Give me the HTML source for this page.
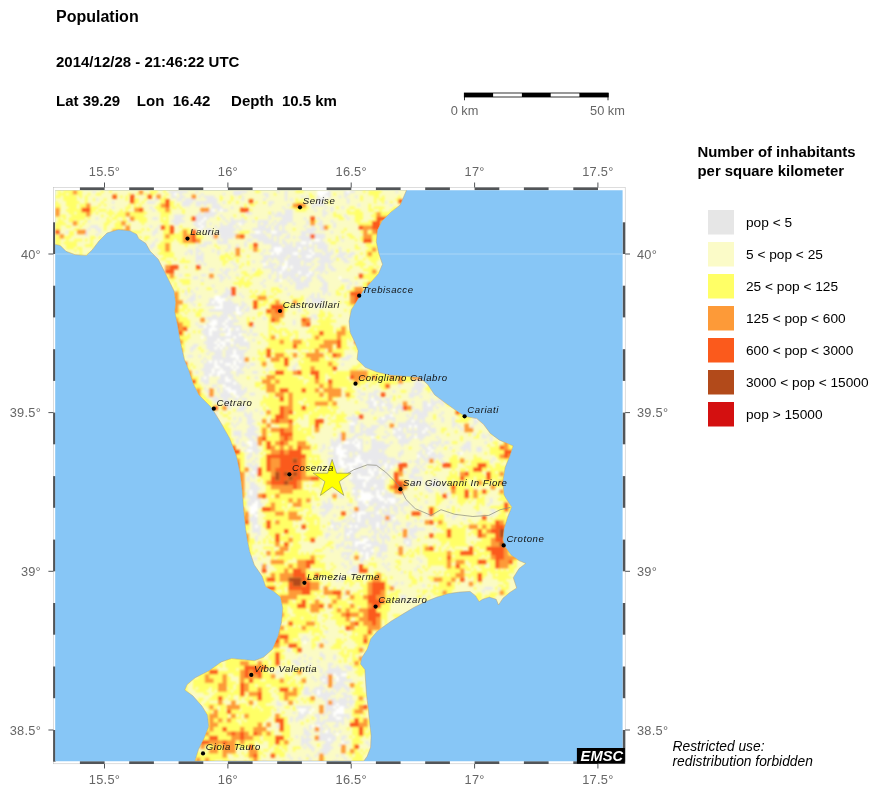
<!DOCTYPE html>
<html><head><meta charset="utf-8"><title>Population</title>
<style>
html,body{margin:0;padding:0;background:#fff}
svg{display:block}
text{font-family:"Liberation Sans",sans-serif}
.ax{font-size:12.8px;fill:#666;letter-spacing:0.25px}
.ct{font-size:9.6px;font-style:italic;fill:#111;letter-spacing:0.55px}
.lg{font-size:13.7px;fill:#000}
.b{font-weight:bold;fill:#000}
</style></head><body>
<svg width="878" height="794" viewBox="0 0 878 794">
<rect width="878" height="794" fill="#fff"/>
<text class="b" x="56" y="21.7" font-size="16">Population</text>
<text class="b" x="56" y="67.2" font-size="15">2014/12/28 - 21:46:22 UTC</text>
<text class="b" x="56" y="105.6" font-size="15" xml:space="preserve">Lat 39.29    Lon  16.42     Depth  10.5 km</text>
<g id="scalebar">
<rect x="464.3" y="93" width="143.9" height="4" fill="#fff" stroke="#000" stroke-width="0.8"/>
<rect x="464.3" y="93" width="28.8" height="4" fill="#000"/><rect x="521.9" y="93" width="28.8" height="4" fill="#000"/><rect x="579.4" y="93" width="28.8" height="4" fill="#000"/>
<path d="M464.5 93V100.3M608 93V100.3" stroke="#000" stroke-width="0.8"/>
<text class="ax" x="464.5" y="115.3" style="letter-spacing:0" text-anchor="middle">0 km</text>
<text class="ax" x="607.5" y="115.3" style="letter-spacing:0" text-anchor="middle">50 km</text>
</g>
<text class="b" x="697.5" y="156.5" font-size="14.9">Number of inhabitants</text>
<text class="b" x="697.5" y="175.8" font-size="14.9">per square kilometer</text>
<rect x="708" y="210" width="26" height="24.5" fill="#e6e6e6"/><text class="lg" x="746" y="227.0">pop &lt; 5</text><rect x="708" y="242" width="26" height="24.5" fill="#fbfbc8"/><text class="lg" x="746" y="259.0">5 &lt; pop &lt; 25</text><rect x="708" y="274" width="26" height="24.5" fill="#ffff66"/><text class="lg" x="746" y="291.0">25 &lt; pop &lt; 125</text><rect x="708" y="306" width="26" height="24.5" fill="#fd9a38"/><text class="lg" x="746" y="323.0">125 &lt; pop &lt; 600</text><rect x="708" y="338" width="26" height="24.5" fill="#fb5a1c"/><text class="lg" x="746" y="355.0">600 &lt; pop &lt; 3000</text><rect x="708" y="370" width="26" height="24.5" fill="#b24a1a"/><text class="lg" x="746" y="387.0">3000 &lt; pop &lt; 15000</text><rect x="708" y="402" width="26" height="24.5" fill="#d41010"/><text class="lg" x="746" y="419.0">pop &gt; 15000</text>
<rect x="53.4" y="187.4" width="571.8" height="576.4" fill="#fff" stroke="#bbb" stroke-width="0.5"/><rect x="79.9" y="187.4" width="24.7" height="2.8" fill="#525558"/><rect x="79.9" y="761.2" width="24.7" height="2.8" fill="#525558"/><rect x="129.2" y="187.4" width="24.7" height="2.8" fill="#525558"/><rect x="129.2" y="761.2" width="24.7" height="2.8" fill="#525558"/><rect x="178.6" y="187.4" width="24.7" height="2.8" fill="#525558"/><rect x="178.6" y="761.2" width="24.7" height="2.8" fill="#525558"/><rect x="227.9" y="187.4" width="24.7" height="2.8" fill="#525558"/><rect x="227.9" y="761.2" width="24.7" height="2.8" fill="#525558"/><rect x="277.2" y="187.4" width="24.7" height="2.8" fill="#525558"/><rect x="277.2" y="761.2" width="24.7" height="2.8" fill="#525558"/><rect x="326.6" y="187.4" width="24.7" height="2.8" fill="#525558"/><rect x="326.6" y="761.2" width="24.7" height="2.8" fill="#525558"/><rect x="375.9" y="187.4" width="24.7" height="2.8" fill="#525558"/><rect x="375.9" y="761.2" width="24.7" height="2.8" fill="#525558"/><rect x="425.2" y="187.4" width="24.7" height="2.8" fill="#525558"/><rect x="425.2" y="761.2" width="24.7" height="2.8" fill="#525558"/><rect x="474.6" y="187.4" width="24.7" height="2.8" fill="#525558"/><rect x="474.6" y="761.2" width="24.7" height="2.8" fill="#525558"/><rect x="523.9" y="187.4" width="24.7" height="2.8" fill="#525558"/><rect x="523.9" y="761.2" width="24.7" height="2.8" fill="#525558"/><rect x="573.3" y="187.4" width="24.7" height="2.8" fill="#525558"/><rect x="573.3" y="761.2" width="24.7" height="2.8" fill="#525558"/><rect x="53.1" y="730.0" width="2.5" height="31.7" fill="#525558"/><rect x="622.6" y="730.0" width="2.6" height="31.7" fill="#525558"/><rect x="53.1" y="666.5" width="2.5" height="31.7" fill="#525558"/><rect x="622.6" y="666.5" width="2.6" height="31.7" fill="#525558"/><rect x="53.1" y="603.0" width="2.5" height="31.7" fill="#525558"/><rect x="622.6" y="603.0" width="2.6" height="31.7" fill="#525558"/><rect x="53.1" y="539.6" width="2.5" height="31.7" fill="#525558"/><rect x="622.6" y="539.6" width="2.6" height="31.7" fill="#525558"/><rect x="53.1" y="476.1" width="2.5" height="31.7" fill="#525558"/><rect x="622.6" y="476.1" width="2.6" height="31.7" fill="#525558"/><rect x="53.1" y="412.6" width="2.5" height="31.7" fill="#525558"/><rect x="622.6" y="412.6" width="2.6" height="31.7" fill="#525558"/><rect x="53.1" y="349.2" width="2.5" height="31.7" fill="#525558"/><rect x="622.6" y="349.2" width="2.6" height="31.7" fill="#525558"/><rect x="53.1" y="285.7" width="2.5" height="31.7" fill="#525558"/><rect x="622.6" y="285.7" width="2.6" height="31.7" fill="#525558"/><rect x="53.1" y="222.3" width="2.5" height="31.7" fill="#525558"/><rect x="622.6" y="222.3" width="2.6" height="31.7" fill="#525558"/><path d="M104.5 182.5V187.5M104.5 764V768.5" stroke="#525558" stroke-width="1"/><text class="ax" x="104.5" y="175.8" text-anchor="middle">15.5°</text><text class="ax" x="104.5" y="784" text-anchor="middle">15.5°</text><path d="M227.9 182.5V187.5M227.9 764V768.5" stroke="#525558" stroke-width="1"/><text class="ax" x="227.9" y="175.8" text-anchor="middle">16°</text><text class="ax" x="227.9" y="784" text-anchor="middle">16°</text><path d="M351.2 182.5V187.5M351.2 764V768.5" stroke="#525558" stroke-width="1"/><text class="ax" x="351.2" y="175.8" text-anchor="middle">16.5°</text><text class="ax" x="351.2" y="784" text-anchor="middle">16.5°</text><path d="M474.6 182.5V187.5M474.6 764V768.5" stroke="#525558" stroke-width="1"/><text class="ax" x="474.6" y="175.8" text-anchor="middle">17°</text><text class="ax" x="474.6" y="784" text-anchor="middle">17°</text><path d="M597.9 182.5V187.5M597.9 764V768.5" stroke="#525558" stroke-width="1"/><text class="ax" x="597.9" y="175.8" text-anchor="middle">17.5°</text><text class="ax" x="597.9" y="784" text-anchor="middle">17.5°</text><path d="M48.4 254.0H53.4M625.2 254.0H630" stroke="#525558" stroke-width="1"/><text class="ax" x="41" y="258.8" text-anchor="end">40°</text><text class="ax" x="637" y="258.8">40°</text><path d="M48.4 412.6H53.4M625.2 412.6H630" stroke="#525558" stroke-width="1"/><text class="ax" x="41" y="417.4" text-anchor="end">39.5°</text><text class="ax" x="637" y="417.4">39.5°</text><path d="M48.4 571.3H53.4M625.2 571.3H630" stroke="#525558" stroke-width="1"/><text class="ax" x="41" y="576.1" text-anchor="end">39°</text><text class="ax" x="637" y="576.1">39°</text><path d="M48.4 730.0H53.4M625.2 730.0H630" stroke="#525558" stroke-width="1"/><text class="ax" x="41" y="734.8" text-anchor="end">38.5°</text><text class="ax" x="637" y="734.8">38.5°</text>
<svg x="55.2" y="190.2" width="567.4" height="571" viewBox="55.2 190.2 567.4 571">
<rect x="55" y="190" width="568" height="572" fill="#87c6f6"/>
<path d="M55 254H623" stroke="#b9dcf8" stroke-width="0.7"/>
<path d="M54 190 L406.6 190 L400.2 205 L391.1 211.9 L382 221 L377.4 230.1 L376.3 241.5 L378.6 252.9 L382.5 264.3 L378.6 273.4 L370.6 282.5 L362.6 291.6 L357 300.7 L351.3 309.8 L349 321.2 L350.1 332.6 L354.7 341.7 L358.1 350.8 L357.1 359.4 L365.1 367.3 L376.4 371.9 L390.1 375.3 L406.1 376.4 L419.7 377.6 L427.7 384.4 L434.5 394.7 L444.8 402.6 L456.2 410.6 L464.6 416.3 L476.7 418.6 L483.5 424.3 L490.3 433.4 L499.5 440.2 L513.1 445.9 L509.7 456.2 L505.1 467.6 L502.9 481.2 L504 494.9 L506.4 499.1 L511.7 507.1 L507.6 517.3 L504.1 528.7 L503 540.1 L505.3 547 L511 554.9 L519 560.6 L525.8 563.4 L519 568.6 L513.3 577.7 L516.7 588 L509.8 592.5 L503 598.2 L498.5 605 L496.2 599.3 L489.3 597.1 L482.5 599.3 L479.1 601.6 L475.7 595.9 L470 591.4 L459.7 592.1 L448.3 593.6 L437 597.1 L425.6 601.6 L414.2 607.3 L402.8 614.1 L391.4 621 L377.4 631 L370.6 639 L367.2 649.2 L361.5 658.3 L360.4 664 L364.9 669.7 L365.6 681.1 L366.5 694.8 L368.3 708.5 L369.5 722.1 L371.1 735.8 L370.6 747.2 L367.2 756.3 L363.8 761 L195 761 L198.5 749.3 L204.2 738 L208.7 726.6 L207.6 715.2 L201.9 706 L192.8 695.8 L184.8 690 L187.1 684.6 L195.1 677.8 L208.7 671 L221.3 661.9 L231.5 658.5 L242.9 659.6 L254.3 660.7 L263.4 657.3 L272.5 649.3 L278.2 635.7 L281.6 622 L282.8 608.3 L280.5 597 L273.6 591.3 L265.7 586.7 L262.3 576.4 L254.3 565 L249.7 551.4 L247.4 540 L245.7 529.5 L243.8 511.2 L242.3 490.7 L240 472.5 L236.6 456.6 L229.7 438.3 L220.6 422.4 L211.5 407.6 L199 395 L193.3 383.7 L188.7 370 L184.4 359.5 L180.3 341.2 L177.6 325.3 L174.8 311.6 L175.7 302.5 L174.1 291.1 L168.5 279.7 L162.8 268.3 L158.2 259.2 L150.2 251.3 L145.7 243.3 L138.8 238.7 L136.6 234.2 L129.7 230.8 L118.3 229.6 L107 233 L99 241 L92.1 250.1 L86.4 255.4 L75 254.7 L66 251.3 L60.3 245.6 L55.7 244.4 L54 244Z" fill="#fbfbc4"/>
<clipPath id="lc"><path d="M54 190 L406.6 190 L400.2 205 L391.1 211.9 L382 221 L377.4 230.1 L376.3 241.5 L378.6 252.9 L382.5 264.3 L378.6 273.4 L370.6 282.5 L362.6 291.6 L357 300.7 L351.3 309.8 L349 321.2 L350.1 332.6 L354.7 341.7 L358.1 350.8 L357.1 359.4 L365.1 367.3 L376.4 371.9 L390.1 375.3 L406.1 376.4 L419.7 377.6 L427.7 384.4 L434.5 394.7 L444.8 402.6 L456.2 410.6 L464.6 416.3 L476.7 418.6 L483.5 424.3 L490.3 433.4 L499.5 440.2 L513.1 445.9 L509.7 456.2 L505.1 467.6 L502.9 481.2 L504 494.9 L506.4 499.1 L511.7 507.1 L507.6 517.3 L504.1 528.7 L503 540.1 L505.3 547 L511 554.9 L519 560.6 L525.8 563.4 L519 568.6 L513.3 577.7 L516.7 588 L509.8 592.5 L503 598.2 L498.5 605 L496.2 599.3 L489.3 597.1 L482.5 599.3 L479.1 601.6 L475.7 595.9 L470 591.4 L459.7 592.1 L448.3 593.6 L437 597.1 L425.6 601.6 L414.2 607.3 L402.8 614.1 L391.4 621 L377.4 631 L370.6 639 L367.2 649.2 L361.5 658.3 L360.4 664 L364.9 669.7 L365.6 681.1 L366.5 694.8 L368.3 708.5 L369.5 722.1 L371.1 735.8 L370.6 747.2 L367.2 756.3 L363.8 761 L195 761 L198.5 749.3 L204.2 738 L208.7 726.6 L207.6 715.2 L201.9 706 L192.8 695.8 L184.8 690 L187.1 684.6 L195.1 677.8 L208.7 671 L221.3 661.9 L231.5 658.5 L242.9 659.6 L254.3 660.7 L263.4 657.3 L272.5 649.3 L278.2 635.7 L281.6 622 L282.8 608.3 L280.5 597 L273.6 591.3 L265.7 586.7 L262.3 576.4 L254.3 565 L249.7 551.4 L247.4 540 L245.7 529.5 L243.8 511.2 L242.3 490.7 L240 472.5 L236.6 456.6 L229.7 438.3 L220.6 422.4 L211.5 407.6 L199 395 L193.3 383.7 L188.7 370 L184.4 359.5 L180.3 341.2 L177.6 325.3 L174.8 311.6 L175.7 302.5 L174.1 291.1 L168.5 279.7 L162.8 268.3 L158.2 259.2 L150.2 251.3 L145.7 243.3 L138.8 238.7 L136.6 234.2 L129.7 230.8 L118.3 229.6 L107 233 L99 241 L92.1 250.1 L86.4 255.4 L75 254.7 L66 251.3 L60.3 245.6 L55.7 244.4 L54 244Z"/></clipPath>
<filter id="bl" x="50" y="185" width="580" height="582" filterUnits="userSpaceOnUse"><feGaussianBlur stdDeviation="0.9"/></filter>
<g clip-path="url(#lc)" filter="url(#bl)">
<g transform="translate(55.2 190.2) scale(2.7)">
<path fill="#e9e9ec" d="M14 0h1v1h-1zM31 0h1v1h-1zM42 0h7v1h-7zM52 0h1v1h-1zM66 0h5v1h-5zM82 0h1v1h-1zM85 0h1v1h-1zM101 0h1v1h-1zM107 0h1v1h-1zM109 0h2v1h-2zM126 0h1v1h-1zM43 1h1v1h-1zM46 1h1v1h-1zM54 1h1v1h-1zM62 1h1v1h-1zM66 1h3v1h-3zM77 1h2v1h-2zM85 1h1v1h-1zM100 1h2v1h-2zM107 1h2v1h-2zM43 2h2v1h-2zM46 2h2v1h-2zM51 2h1v1h-1zM53 2h1v1h-1zM55 2h4v1h-4zM69 2h1v1h-1zM78 2h1v1h-1zM85 2h1v1h-1zM91 2h1v1h-1zM93 2h1v1h-1zM97 2h1v1h-1zM99 2h1v1h-1zM101 2h1v1h-1zM105 2h1v1h-1zM107 2h1v1h-1zM111 2h1v1h-1zM15 3h1v1h-1zM37 3h1v1h-1zM45 3h2v1h-2zM48 3h4v1h-4zM56 3h4v1h-4zM69 3h1v1h-1zM77 3h1v1h-1zM85 3h1v1h-1zM87 3h1v1h-1zM97 3h3v1h-3zM108 3h1v1h-1zM21 4h1v1h-1zM34 4h3v1h-3zM47 4h4v1h-4zM52 4h8v1h-8zM62 4h1v1h-1zM79 4h2v1h-2zM97 4h2v1h-2zM108 4h1v1h-1zM122 4h1v1h-1zM47 5h3v1h-3zM52 5h2v1h-2zM55 5h1v1h-1zM58 5h3v1h-3zM79 5h1v1h-1zM86 5h1v1h-1zM95 5h5v1h-5zM112 5h1v1h-1zM124 5h1v1h-1zM21 6h1v1h-1zM35 6h1v1h-1zM58 6h4v1h-4zM65 6h1v1h-1zM84 6h1v1h-1zM95 6h1v1h-1zM100 6h1v1h-1zM102 6h1v1h-1zM106 6h1v1h-1zM36 7h1v1h-1zM55 7h1v1h-1zM57 7h1v1h-1zM60 7h1v1h-1zM62 7h2v1h-2zM85 7h3v1h-3zM96 7h1v1h-1zM99 7h1v1h-1zM102 7h1v1h-1zM53 8h1v1h-1zM55 8h5v1h-5zM71 8h2v1h-2zM80 8h1v1h-1zM82 8h2v1h-2zM85 8h3v1h-3zM99 8h2v1h-2zM44 9h4v1h-4zM52 9h7v1h-7zM61 9h1v1h-1zM79 9h1v1h-1zM81 9h7v1h-7zM99 9h1v1h-1zM107 9h1v1h-1zM15 10h1v1h-1zM36 10h2v1h-2zM44 10h3v1h-3zM52 10h3v1h-3zM56 10h1v1h-1zM62 10h1v1h-1zM65 10h1v1h-1zM69 10h1v1h-1zM79 10h1v1h-1zM84 10h4v1h-4zM92 10h1v1h-1zM97 10h1v1h-1zM108 10h1v1h-1zM12 11h1v1h-1zM27 11h1v1h-1zM43 11h5v1h-5zM52 11h2v1h-2zM55 11h1v1h-1zM63 11h1v1h-1zM65 11h6v1h-6zM73 11h1v1h-1zM75 11h4v1h-4zM81 11h1v1h-1zM83 11h5v1h-5zM93 11h1v1h-1zM98 11h1v1h-1zM102 11h1v1h-1zM44 12h2v1h-2zM51 12h2v1h-2zM54 12h2v1h-2zM57 12h1v1h-1zM61 12h1v1h-1zM64 12h3v1h-3zM69 12h1v1h-1zM75 12h1v1h-1zM77 12h2v1h-2zM80 12h1v1h-1zM82 12h4v1h-4zM88 12h1v1h-1zM93 12h1v1h-1zM97 12h2v1h-2zM103 12h1v1h-1zM13 13h3v1h-3zM35 13h1v1h-1zM38 13h1v1h-1zM52 13h2v1h-2zM55 13h1v1h-1zM59 13h1v1h-1zM61 13h5v1h-5zM67 13h1v1h-1zM75 13h3v1h-3zM79 13h1v1h-1zM81 13h2v1h-2zM84 13h1v1h-1zM92 13h1v1h-1zM95 13h1v1h-1zM98 13h2v1h-2zM103 13h1v1h-1zM12 14h1v1h-1zM15 14h2v1h-2zM37 14h1v1h-1zM54 14h1v1h-1zM56 14h2v1h-2zM60 14h7v1h-7zM68 14h1v1h-1zM73 14h7v1h-7zM81 14h2v1h-2zM84 14h1v1h-1zM93 14h4v1h-4zM98 14h2v1h-2zM4 15h1v1h-1zM11 15h1v1h-1zM16 15h1v1h-1zM36 15h2v1h-2zM56 15h2v1h-2zM60 15h6v1h-6zM76 15h1v1h-1zM78 15h2v1h-2zM82 15h4v1h-4zM91 15h5v1h-5zM102 15h1v1h-1zM11 16h1v1h-1zM15 16h1v1h-1zM36 16h1v1h-1zM57 16h1v1h-1zM59 16h1v1h-1zM61 16h6v1h-6zM72 16h6v1h-6zM80 16h4v1h-4zM86 16h1v1h-1zM91 16h2v1h-2zM94 16h1v1h-1zM96 16h4v1h-4zM58 17h1v1h-1zM61 17h5v1h-5zM73 17h6v1h-6zM80 17h1v1h-1zM82 17h1v1h-1zM85 17h2v1h-2zM88 17h1v1h-1zM90 17h10v1h-10zM105 17h1v1h-1zM30 18h1v1h-1zM37 18h1v1h-1zM60 18h1v1h-1zM62 18h2v1h-2zM71 18h2v1h-2zM75 18h6v1h-6zM82 18h1v1h-1zM84 18h1v1h-1zM91 18h4v1h-4zM98 18h1v1h-1zM106 18h1v1h-1zM31 19h1v1h-1zM33 19h1v1h-1zM36 19h1v1h-1zM52 19h1v1h-1zM55 19h3v1h-3zM60 19h4v1h-4zM70 19h1v1h-1zM77 19h6v1h-6zM84 19h2v1h-2zM87 19h1v1h-1zM89 19h2v1h-2zM93 19h1v1h-1zM95 19h5v1h-5zM35 20h2v1h-2zM53 20h3v1h-3zM64 20h1v1h-1zM67 20h1v1h-1zM70 20h1v1h-1zM80 20h4v1h-4zM85 20h3v1h-3zM89 20h5v1h-5zM95 20h1v1h-1zM97 20h4v1h-4zM35 21h1v1h-1zM52 21h1v1h-1zM64 21h1v1h-1zM80 21h1v1h-1zM84 21h6v1h-6zM91 21h1v1h-1zM93 21h3v1h-3zM97 21h4v1h-4zM105 21h1v1h-1zM49 22h2v1h-2zM52 22h2v1h-2zM58 22h1v1h-1zM60 22h1v1h-1zM63 22h1v1h-1zM77 22h1v1h-1zM79 22h2v1h-2zM84 22h6v1h-6zM91 22h3v1h-3zM95 22h1v1h-1zM99 22h2v1h-2zM102 22h1v1h-1zM105 22h1v1h-1zM48 23h1v1h-1zM50 23h1v1h-1zM52 23h1v1h-1zM54 23h1v1h-1zM60 23h1v1h-1zM76 23h1v1h-1zM81 23h1v1h-1zM83 23h5v1h-5zM90 23h5v1h-5zM96 23h3v1h-3zM100 23h3v1h-3zM105 23h3v1h-3zM109 23h2v1h-2zM35 24h1v1h-1zM37 24h1v1h-1zM52 24h3v1h-3zM77 24h9v1h-9zM87 24h3v1h-3zM91 24h2v1h-2zM95 24h7v1h-7zM104 24h3v1h-3zM108 24h2v1h-2zM52 25h3v1h-3zM77 25h2v1h-2zM80 25h1v1h-1zM82 25h3v1h-3zM86 25h10v1h-10zM98 25h4v1h-4zM103 25h1v1h-1zM106 25h2v1h-2zM52 26h1v1h-1zM54 26h1v1h-1zM65 26h1v1h-1zM73 26h1v1h-1zM76 26h2v1h-2zM79 26h1v1h-1zM83 26h2v1h-2zM86 26h5v1h-5zM92 26h3v1h-3zM97 26h6v1h-6zM107 26h2v1h-2zM38 27h1v1h-1zM53 27h1v1h-1zM55 27h1v1h-1zM66 27h1v1h-1zM79 27h3v1h-3zM83 27h1v1h-1zM86 27h5v1h-5zM92 27h1v1h-1zM95 27h1v1h-1zM98 27h2v1h-2zM101 27h1v1h-1zM67 28h1v1h-1zM77 28h4v1h-4zM82 28h2v1h-2zM86 28h1v1h-1zM88 28h7v1h-7zM97 28h3v1h-3zM101 28h2v1h-2zM57 29h2v1h-2zM61 29h1v1h-1zM63 29h2v1h-2zM66 29h1v1h-1zM73 29h1v1h-1zM80 29h4v1h-4zM85 29h1v1h-1zM87 29h7v1h-7zM96 29h4v1h-4zM102 29h2v1h-2zM39 30h1v1h-1zM62 30h2v1h-2zM80 30h1v1h-1zM82 30h1v1h-1zM84 30h6v1h-6zM91 30h3v1h-3zM95 30h1v1h-1zM98 30h1v1h-1zM100 30h1v1h-1zM46 31h1v1h-1zM54 31h2v1h-2zM60 31h2v1h-2zM63 31h1v1h-1zM67 31h1v1h-1zM79 31h1v1h-1zM82 31h1v1h-1zM84 31h5v1h-5zM90 31h3v1h-3zM94 31h2v1h-2zM97 31h1v1h-1zM51 32h2v1h-2zM57 32h1v1h-1zM61 32h2v1h-2zM64 32h1v1h-1zM79 32h1v1h-1zM82 32h1v1h-1zM84 32h2v1h-2zM87 32h4v1h-4zM93 32h2v1h-2zM97 32h2v1h-2zM54 33h1v1h-1zM61 33h1v1h-1zM77 33h1v1h-1zM81 33h2v1h-2zM86 33h1v1h-1zM88 33h3v1h-3zM92 33h3v1h-3zM98 33h2v1h-2zM106 33h3v1h-3zM76 34h1v1h-1zM87 34h1v1h-1zM89 34h5v1h-5zM99 34h2v1h-2zM109 34h1v1h-1zM111 34h1v1h-1zM58 35h1v1h-1zM77 35h1v1h-1zM83 35h1v1h-1zM89 35h5v1h-5zM99 35h2v1h-2zM108 35h1v1h-1zM52 36h1v1h-1zM63 36h1v1h-1zM65 36h1v1h-1zM85 36h1v1h-1zM89 36h3v1h-3zM98 36h3v1h-3zM108 36h1v1h-1zM48 37h1v1h-1zM50 37h1v1h-1zM59 37h1v1h-1zM63 37h2v1h-2zM99 37h2v1h-2zM48 38h1v1h-1zM51 38h1v1h-1zM62 38h4v1h-4zM68 38h1v1h-1zM86 38h1v1h-1zM95 38h1v1h-1zM97 38h1v1h-1zM99 38h1v1h-1zM101 38h1v1h-1zM50 39h2v1h-2zM53 39h1v1h-1zM61 39h3v1h-3zM65 39h1v1h-1zM69 39h1v1h-1zM94 39h2v1h-2zM97 39h1v1h-1zM49 40h3v1h-3zM57 40h2v1h-2zM64 40h1v1h-1zM93 40h1v1h-1zM95 40h5v1h-5zM48 41h1v1h-1zM50 41h1v1h-1zM57 41h1v1h-1zM59 41h1v1h-1zM62 41h4v1h-4zM69 41h1v1h-1zM93 41h1v1h-1zM95 41h4v1h-4zM103 41h1v1h-1zM51 42h1v1h-1zM56 42h5v1h-5zM62 42h6v1h-6zM69 42h2v1h-2zM94 42h1v1h-1zM97 42h1v1h-1zM99 42h1v1h-1zM62 43h5v1h-5zM68 43h2v1h-2zM71 43h1v1h-1zM96 43h1v1h-1zM98 43h1v1h-1zM57 44h10v1h-10zM68 44h1v1h-1zM70 44h2v1h-2zM90 44h1v1h-1zM62 45h4v1h-4zM69 45h1v1h-1zM58 46h2v1h-2zM61 46h3v1h-3zM65 46h2v1h-2zM68 46h1v1h-1zM95 46h2v1h-2zM56 47h8v1h-8zM66 47h1v1h-1zM77 47h1v1h-1zM94 47h1v1h-1zM96 47h1v1h-1zM57 48h1v1h-1zM60 48h3v1h-3zM64 48h4v1h-4zM88 48h1v1h-1zM52 49h1v1h-1zM56 49h1v1h-1zM60 49h2v1h-2zM63 49h3v1h-3zM88 49h1v1h-1zM53 50h2v1h-2zM56 50h2v1h-2zM59 50h4v1h-4zM64 50h5v1h-5zM73 50h1v1h-1zM55 51h2v1h-2zM60 51h1v1h-1zM63 51h1v1h-1zM66 51h1v1h-1zM68 51h1v1h-1zM72 51h1v1h-1zM54 52h3v1h-3zM58 52h6v1h-6zM65 52h6v1h-6zM72 52h1v1h-1zM55 53h2v1h-2zM58 53h3v1h-3zM65 53h3v1h-3zM71 53h1v1h-1zM73 53h2v1h-2zM56 54h10v1h-10zM67 54h3v1h-3zM56 55h4v1h-4zM61 55h2v1h-2zM66 55h4v1h-4zM73 55h1v1h-1zM55 56h4v1h-4zM60 56h1v1h-1zM63 56h2v1h-2zM66 56h6v1h-6zM51 57h2v1h-2zM56 57h4v1h-4zM61 57h1v1h-1zM63 57h2v1h-2zM66 57h1v1h-1zM68 57h4v1h-4zM50 58h2v1h-2zM56 58h3v1h-3zM60 58h1v1h-1zM62 58h1v1h-1zM64 58h4v1h-4zM71 58h1v1h-1zM50 59h1v1h-1zM57 59h5v1h-5zM63 59h3v1h-3zM67 59h4v1h-4zM56 60h1v1h-1zM59 60h3v1h-3zM63 60h3v1h-3zM67 60h3v1h-3zM98 60h1v1h-1zM49 61h2v1h-2zM53 61h1v1h-1zM58 61h4v1h-4zM63 61h2v1h-2zM68 61h2v1h-2zM108 61h2v1h-2zM55 62h1v1h-1zM58 62h9v1h-9zM68 62h2v1h-2zM106 62h3v1h-3zM54 63h1v1h-1zM56 63h1v1h-1zM58 63h1v1h-1zM60 63h1v1h-1zM62 63h4v1h-4zM67 63h1v1h-1zM69 63h1v1h-1zM55 64h4v1h-4zM60 64h3v1h-3zM65 64h1v1h-1zM67 64h4v1h-4zM72 64h2v1h-2zM89 64h1v1h-1zM106 64h1v1h-1zM114 64h1v1h-1zM55 65h4v1h-4zM61 65h4v1h-4zM66 65h1v1h-1zM68 65h2v1h-2zM71 65h1v1h-1zM88 65h1v1h-1zM54 66h4v1h-4zM59 66h2v1h-2zM62 66h4v1h-4zM67 66h2v1h-2zM78 66h1v1h-1zM88 66h1v1h-1zM52 67h1v1h-1zM55 67h3v1h-3zM59 67h1v1h-1zM63 67h2v1h-2zM67 67h3v1h-3zM73 67h2v1h-2zM55 68h2v1h-2zM58 68h2v1h-2zM61 68h5v1h-5zM67 68h1v1h-1zM54 69h1v1h-1zM56 69h1v1h-1zM61 69h2v1h-2zM64 69h2v1h-2zM74 69h1v1h-1zM54 70h3v1h-3zM60 70h3v1h-3zM65 70h2v1h-2zM134 70h1v1h-1zM55 71h2v1h-2zM60 71h6v1h-6zM67 71h1v1h-1zM133 71h3v1h-3zM58 72h2v1h-2zM63 72h6v1h-6zM115 72h1v1h-1zM127 72h1v1h-1zM133 72h4v1h-4zM55 73h1v1h-1zM60 73h1v1h-1zM62 73h1v1h-1zM65 73h4v1h-4zM70 73h1v1h-1zM132 73h4v1h-4zM56 74h1v1h-1zM60 74h1v1h-1zM62 74h2v1h-2zM67 74h4v1h-4zM112 74h1v1h-1zM118 74h2v1h-2zM125 74h1v1h-1zM132 74h1v1h-1zM134 74h2v1h-2zM61 75h4v1h-4zM67 75h3v1h-3zM72 75h2v1h-2zM113 75h2v1h-2zM116 75h3v1h-3zM131 75h4v1h-4zM139 75h1v1h-1zM56 76h2v1h-2zM59 76h1v1h-1zM61 76h5v1h-5zM68 76h1v1h-1zM112 76h1v1h-1zM116 76h1v1h-1zM118 76h2v1h-2zM124 76h1v1h-1zM131 76h2v1h-2zM135 76h1v1h-1zM142 76h1v1h-1zM58 77h3v1h-3zM62 77h2v1h-2zM66 77h2v1h-2zM69 77h2v1h-2zM113 77h1v1h-1zM116 77h1v1h-1zM118 77h3v1h-3zM122 77h2v1h-2zM139 77h1v1h-1zM142 77h1v1h-1zM59 78h2v1h-2zM62 78h3v1h-3zM115 78h3v1h-3zM120 78h2v1h-2zM123 78h1v1h-1zM132 78h1v1h-1zM136 78h2v1h-2zM139 78h5v1h-5zM63 79h2v1h-2zM66 79h1v1h-1zM69 79h1v1h-1zM116 79h2v1h-2zM119 79h2v1h-2zM122 79h3v1h-3zM127 79h1v1h-1zM136 79h2v1h-2zM139 79h2v1h-2zM143 79h1v1h-1zM64 80h1v1h-1zM68 80h3v1h-3zM116 80h3v1h-3zM120 80h1v1h-1zM123 80h2v1h-2zM126 80h3v1h-3zM132 80h1v1h-1zM136 80h4v1h-4zM141 80h1v1h-1zM67 81h3v1h-3zM74 81h1v1h-1zM113 81h3v1h-3zM118 81h1v1h-1zM120 81h2v1h-2zM123 81h1v1h-1zM126 81h1v1h-1zM128 81h1v1h-1zM133 81h2v1h-2zM136 81h4v1h-4zM59 82h1v1h-1zM70 82h1v1h-1zM72 82h1v1h-1zM76 82h1v1h-1zM117 82h1v1h-1zM124 82h1v1h-1zM126 82h1v1h-1zM132 82h6v1h-6zM143 82h1v1h-1zM58 83h2v1h-2zM70 83h3v1h-3zM110 83h1v1h-1zM113 83h1v1h-1zM122 83h2v1h-2zM130 83h1v1h-1zM132 83h1v1h-1zM134 83h4v1h-4zM142 83h1v1h-1zM154 83h2v1h-2zM59 84h1v1h-1zM66 84h1v1h-1zM68 84h1v1h-1zM71 84h2v1h-2zM108 84h5v1h-5zM120 84h1v1h-1zM122 84h4v1h-4zM131 84h2v1h-2zM134 84h3v1h-3zM143 84h1v1h-1zM147 84h1v1h-1zM155 84h1v1h-1zM157 84h1v1h-1zM68 85h1v1h-1zM71 85h3v1h-3zM110 85h2v1h-2zM119 85h4v1h-4zM125 85h1v1h-1zM130 85h2v1h-2zM133 85h2v1h-2zM136 85h1v1h-1zM143 85h1v1h-1zM147 85h1v1h-1zM155 85h2v1h-2zM158 85h1v1h-1zM65 86h1v1h-1zM67 86h1v1h-1zM71 86h2v1h-2zM111 86h1v1h-1zM113 86h1v1h-1zM120 86h2v1h-2zM127 86h11v1h-11zM139 86h1v1h-1zM147 86h2v1h-2zM155 86h1v1h-1zM158 86h1v1h-1zM66 87h1v1h-1zM72 87h2v1h-2zM109 87h2v1h-2zM113 87h2v1h-2zM117 87h3v1h-3zM122 87h1v1h-1zM127 87h4v1h-4zM132 87h1v1h-1zM134 87h5v1h-5zM147 87h1v1h-1zM149 87h1v1h-1zM154 87h1v1h-1zM160 87h1v1h-1zM71 88h4v1h-4zM109 88h2v1h-2zM113 88h1v1h-1zM115 88h4v1h-4zM125 88h2v1h-2zM128 88h1v1h-1zM130 88h1v1h-1zM132 88h1v1h-1zM134 88h3v1h-3zM138 88h3v1h-3zM150 88h1v1h-1zM66 89h3v1h-3zM71 89h3v1h-3zM109 89h2v1h-2zM113 89h5v1h-5zM122 89h1v1h-1zM126 89h3v1h-3zM130 89h6v1h-6zM137 89h1v1h-1zM139 89h2v1h-2zM66 90h3v1h-3zM70 90h5v1h-5zM105 90h1v1h-1zM111 90h3v1h-3zM115 90h4v1h-4zM123 90h1v1h-1zM125 90h5v1h-5zM132 90h1v1h-1zM134 90h5v1h-5zM155 90h1v1h-1zM158 90h1v1h-1zM160 90h1v1h-1zM68 91h1v1h-1zM71 91h2v1h-2zM74 91h1v1h-1zM105 91h1v1h-1zM110 91h2v1h-2zM121 91h2v1h-2zM126 91h1v1h-1zM128 91h2v1h-2zM131 91h2v1h-2zM134 91h3v1h-3zM141 91h1v1h-1zM158 91h2v1h-2zM161 91h1v1h-1zM67 92h1v1h-1zM72 92h2v1h-2zM102 92h1v1h-1zM104 92h2v1h-2zM108 92h3v1h-3zM112 92h2v1h-2zM117 92h2v1h-2zM127 92h5v1h-5zM135 92h1v1h-1zM142 92h1v1h-1zM161 92h1v1h-1zM67 93h1v1h-1zM69 93h1v1h-1zM73 93h2v1h-2zM102 93h4v1h-4zM109 93h1v1h-1zM111 93h1v1h-1zM113 93h1v1h-1zM115 93h1v1h-1zM117 93h5v1h-5zM124 93h1v1h-1zM127 93h4v1h-4zM139 93h4v1h-4zM144 93h2v1h-2zM152 93h2v1h-2zM159 93h1v1h-1zM69 94h2v1h-2zM73 94h2v1h-2zM99 94h1v1h-1zM102 94h3v1h-3zM106 94h5v1h-5zM113 94h1v1h-1zM117 94h7v1h-7zM128 94h1v1h-1zM135 94h2v1h-2zM138 94h2v1h-2zM141 94h1v1h-1zM143 94h1v1h-1zM151 94h3v1h-3zM71 95h4v1h-4zM99 95h1v1h-1zM101 95h1v1h-1zM103 95h1v1h-1zM106 95h6v1h-6zM113 95h1v1h-1zM117 95h6v1h-6zM136 95h2v1h-2zM139 95h2v1h-2zM146 95h1v1h-1zM150 95h4v1h-4zM156 95h2v1h-2zM70 96h1v1h-1zM73 96h3v1h-3zM98 96h1v1h-1zM103 96h1v1h-1zM108 96h6v1h-6zM116 96h4v1h-4zM121 96h1v1h-1zM128 96h1v1h-1zM135 96h1v1h-1zM137 96h2v1h-2zM151 96h1v1h-1zM153 96h1v1h-1zM156 96h2v1h-2zM72 97h1v1h-1zM74 97h1v1h-1zM101 97h3v1h-3zM107 97h2v1h-2zM110 97h1v1h-1zM112 97h10v1h-10zM127 97h2v1h-2zM134 97h2v1h-2zM137 97h1v1h-1zM139 97h2v1h-2zM142 97h1v1h-1zM149 97h1v1h-1zM71 98h2v1h-2zM103 98h2v1h-2zM108 98h1v1h-1zM110 98h2v1h-2zM113 98h10v1h-10zM127 98h1v1h-1zM135 98h2v1h-2zM138 98h6v1h-6zM71 99h1v1h-1zM74 99h1v1h-1zM101 99h4v1h-4zM106 99h5v1h-5zM113 99h13v1h-13zM134 99h1v1h-1zM136 99h3v1h-3zM140 99h1v1h-1zM142 99h1v1h-1zM162 99h1v1h-1zM73 100h1v1h-1zM101 100h4v1h-4zM107 100h4v1h-4zM114 100h2v1h-2zM117 100h3v1h-3zM121 100h2v1h-2zM124 100h4v1h-4zM131 100h1v1h-1zM133 100h2v1h-2zM137 100h1v1h-1zM143 100h1v1h-1zM161 100h1v1h-1zM71 101h2v1h-2zM74 101h1v1h-1zM101 101h4v1h-4zM107 101h1v1h-1zM112 101h2v1h-2zM115 101h7v1h-7zM123 101h3v1h-3zM134 101h1v1h-1zM136 101h1v1h-1zM72 102h3v1h-3zM103 102h3v1h-3zM108 102h1v1h-1zM110 102h4v1h-4zM115 102h6v1h-6zM123 102h1v1h-1zM133 102h1v1h-1zM135 102h1v1h-1zM73 103h2v1h-2zM102 103h1v1h-1zM104 103h1v1h-1zM107 103h2v1h-2zM111 103h5v1h-5zM117 103h1v1h-1zM119 103h1v1h-1zM122 103h2v1h-2zM132 103h3v1h-3zM136 103h1v1h-1zM72 104h1v1h-1zM74 104h1v1h-1zM102 104h1v1h-1zM104 104h1v1h-1zM107 104h9v1h-9zM118 104h2v1h-2zM121 104h2v1h-2zM129 104h1v1h-1zM132 104h3v1h-3zM72 105h2v1h-2zM103 105h1v1h-1zM110 105h2v1h-2zM113 105h4v1h-4zM118 105h2v1h-2zM121 105h1v1h-1zM123 105h1v1h-1zM131 105h2v1h-2zM71 106h1v1h-1zM73 106h1v1h-1zM101 106h2v1h-2zM110 106h2v1h-2zM117 106h2v1h-2zM120 106h1v1h-1zM122 106h1v1h-1zM131 106h5v1h-5zM140 106h1v1h-1zM71 107h1v1h-1zM109 107h6v1h-6zM116 107h6v1h-6zM133 107h1v1h-1zM135 107h1v1h-1zM139 107h1v1h-1zM141 107h1v1h-1zM72 108h2v1h-2zM101 108h1v1h-1zM103 108h1v1h-1zM106 108h1v1h-1zM110 108h4v1h-4zM115 108h7v1h-7zM132 108h4v1h-4zM137 108h1v1h-1zM139 108h3v1h-3zM144 108h1v1h-1zM72 109h3v1h-3zM103 109h1v1h-1zM111 109h3v1h-3zM115 109h3v1h-3zM119 109h3v1h-3zM132 109h1v1h-1zM137 109h1v1h-1zM139 109h3v1h-3zM143 109h1v1h-1zM72 110h4v1h-4zM104 110h2v1h-2zM107 110h1v1h-1zM110 110h7v1h-7zM118 110h4v1h-4zM137 110h2v1h-2zM142 110h1v1h-1zM144 110h1v1h-1zM71 111h1v1h-1zM73 111h2v1h-2zM111 111h1v1h-1zM114 111h5v1h-5zM120 111h1v1h-1zM122 111h1v1h-1zM138 111h2v1h-2zM143 111h1v1h-1zM71 112h1v1h-1zM73 112h2v1h-2zM103 112h1v1h-1zM105 112h1v1h-1zM110 112h3v1h-3zM117 112h2v1h-2zM120 112h1v1h-1zM122 112h3v1h-3zM145 112h1v1h-1zM71 113h4v1h-4zM105 113h2v1h-2zM111 113h1v1h-1zM118 113h1v1h-1zM121 113h5v1h-5zM129 113h1v1h-1zM72 114h4v1h-4zM101 114h1v1h-1zM111 114h1v1h-1zM117 114h3v1h-3zM122 114h1v1h-1zM126 114h2v1h-2zM133 114h1v1h-1zM161 114h1v1h-1zM71 115h3v1h-3zM75 115h1v1h-1zM99 115h1v1h-1zM101 115h1v1h-1zM112 115h2v1h-2zM116 115h6v1h-6zM123 115h1v1h-1zM126 115h1v1h-1zM129 115h2v1h-2zM137 115h1v1h-1zM146 115h1v1h-1zM161 115h1v1h-1zM71 116h2v1h-2zM75 116h2v1h-2zM99 116h4v1h-4zM108 116h2v1h-2zM112 116h3v1h-3zM116 116h2v1h-2zM119 116h7v1h-7zM127 116h4v1h-4zM160 116h1v1h-1zM75 117h1v1h-1zM95 117h1v1h-1zM98 117h5v1h-5zM104 117h1v1h-1zM106 117h1v1h-1zM112 117h4v1h-4zM118 117h3v1h-3zM122 117h2v1h-2zM125 117h2v1h-2zM128 117h1v1h-1zM132 117h1v1h-1zM135 117h1v1h-1zM145 117h1v1h-1zM100 118h2v1h-2zM109 118h1v1h-1zM112 118h3v1h-3zM118 118h2v1h-2zM121 118h1v1h-1zM123 118h1v1h-1zM125 118h2v1h-2zM128 118h1v1h-1zM161 118h2v1h-2zM74 119h1v1h-1zM98 119h3v1h-3zM110 119h2v1h-2zM115 119h4v1h-4zM121 119h3v1h-3zM126 119h1v1h-1zM129 119h1v1h-1zM139 119h1v1h-1zM156 119h2v1h-2zM162 119h1v1h-1zM73 120h1v1h-1zM99 120h1v1h-1zM103 120h1v1h-1zM109 120h1v1h-1zM111 120h1v1h-1zM113 120h4v1h-4zM118 120h3v1h-3zM122 120h4v1h-4zM137 120h1v1h-1zM145 120h1v1h-1zM147 120h2v1h-2zM161 120h1v1h-1zM72 121h3v1h-3zM108 121h1v1h-1zM110 121h2v1h-2zM113 121h12v1h-12zM147 121h1v1h-1zM151 121h1v1h-1zM72 122h3v1h-3zM102 122h1v1h-1zM106 122h2v1h-2zM109 122h1v1h-1zM111 122h1v1h-1zM113 122h2v1h-2zM116 122h5v1h-5zM122 122h3v1h-3zM126 122h1v1h-1zM133 122h1v1h-1zM135 122h1v1h-1zM73 123h2v1h-2zM102 123h4v1h-4zM108 123h7v1h-7zM116 123h3v1h-3zM120 123h1v1h-1zM122 123h1v1h-1zM125 123h3v1h-3zM130 123h2v1h-2zM73 124h1v1h-1zM75 124h1v1h-1zM103 124h1v1h-1zM105 124h1v1h-1zM107 124h1v1h-1zM110 124h1v1h-1zM112 124h4v1h-4zM117 124h2v1h-2zM120 124h3v1h-3zM125 124h1v1h-1zM130 124h1v1h-1zM133 124h1v1h-1zM73 125h3v1h-3zM101 125h1v1h-1zM103 125h2v1h-2zM107 125h6v1h-6zM117 125h2v1h-2zM120 125h2v1h-2zM123 125h1v1h-1zM125 125h1v1h-1zM128 125h1v1h-1zM131 125h6v1h-6zM140 125h1v1h-1zM73 126h3v1h-3zM107 126h2v1h-2zM110 126h2v1h-2zM116 126h1v1h-1zM118 126h2v1h-2zM121 126h1v1h-1zM123 126h1v1h-1zM126 126h1v1h-1zM131 126h3v1h-3zM75 127h1v1h-1zM100 127h2v1h-2zM105 127h1v1h-1zM107 127h1v1h-1zM109 127h2v1h-2zM118 127h1v1h-1zM120 127h1v1h-1zM122 127h1v1h-1zM131 127h2v1h-2zM74 128h1v1h-1zM100 128h1v1h-1zM104 128h1v1h-1zM107 128h1v1h-1zM109 128h2v1h-2zM113 128h3v1h-3zM117 128h2v1h-2zM120 128h4v1h-4zM130 128h1v1h-1zM132 128h2v1h-2zM74 129h1v1h-1zM107 129h6v1h-6zM116 129h1v1h-1zM118 129h1v1h-1zM121 129h1v1h-1zM123 129h1v1h-1zM129 129h3v1h-3zM106 130h1v1h-1zM110 130h1v1h-1zM115 130h5v1h-5zM121 130h1v1h-1zM129 130h1v1h-1zM131 130h1v1h-1zM104 131h3v1h-3zM108 131h1v1h-1zM110 131h1v1h-1zM112 131h3v1h-3zM117 131h6v1h-6zM130 131h2v1h-2zM104 132h1v1h-1zM107 132h7v1h-7zM115 132h3v1h-3zM120 132h3v1h-3zM102 133h1v1h-1zM110 133h1v1h-1zM112 133h5v1h-5zM120 133h3v1h-3zM127 133h1v1h-1zM106 134h4v1h-4zM114 134h1v1h-1zM116 134h2v1h-2zM119 134h2v1h-2zM106 135h1v1h-1zM108 135h1v1h-1zM114 135h1v1h-1zM116 135h1v1h-1zM119 135h2v1h-2zM122 135h1v1h-1zM73 136h2v1h-2zM107 136h2v1h-2zM113 136h2v1h-2zM121 136h1v1h-1zM134 136h1v1h-1zM109 137h1v1h-1zM113 137h1v1h-1zM135 137h1v1h-1zM76 138h1v1h-1zM106 138h1v1h-1zM109 138h1v1h-1zM121 138h1v1h-1zM123 138h1v1h-1zM78 139h1v1h-1zM107 139h1v1h-1zM110 139h2v1h-2zM122 139h1v1h-1zM134 139h1v1h-1zM109 140h3v1h-3zM123 140h1v1h-1zM133 140h1v1h-1zM108 141h1v1h-1zM110 141h2v1h-2zM128 141h1v1h-1zM105 143h2v1h-2zM104 144h1v1h-1zM106 144h1v1h-1zM126 145h1v1h-1zM128 145h1v1h-1zM125 146h1v1h-1zM136 146h1v1h-1zM159 147h3v1h-3zM164 147h1v1h-1zM158 148h1v1h-1zM107 149h1v1h-1zM128 150h2v1h-2zM136 150h1v1h-1zM128 151h1v1h-1zM132 151h1v1h-1zM126 152h1v1h-1zM130 152h1v1h-1zM165 152h1v1h-1zM100 163h1v1h-1zM92 165h1v1h-1zM91 166h1v1h-1zM93 166h1v1h-1zM99 166h1v1h-1zM100 167h1v1h-1zM97 168h1v1h-1zM86 170h1v1h-1zM98 171h1v1h-1zM92 172h1v1h-1zM98 172h2v1h-2zM103 172h1v1h-1zM90 173h1v1h-1zM94 173h1v1h-1zM99 173h1v1h-1zM103 173h1v1h-1zM88 174h2v1h-2zM92 174h1v1h-1zM97 174h1v1h-1zM89 175h2v1h-2zM94 175h1v1h-1zM101 175h2v1h-2zM93 176h1v1h-1zM97 176h1v1h-1zM101 176h1v1h-1zM104 176h1v1h-1zM107 176h3v1h-3zM87 177h1v1h-1zM98 177h1v1h-1zM101 177h5v1h-5zM108 177h2v1h-2zM82 178h1v1h-1zM94 178h1v1h-1zM98 178h1v1h-1zM100 178h8v1h-8zM99 179h1v1h-1zM101 179h2v1h-2zM104 179h2v1h-2zM95 180h1v1h-1zM98 180h4v1h-4zM105 180h3v1h-3zM96 181h1v1h-1zM98 181h1v1h-1zM100 181h1v1h-1zM103 181h1v1h-1zM105 181h5v1h-5zM99 182h3v1h-3zM104 182h3v1h-3zM98 183h1v1h-1zM103 183h5v1h-5zM92 184h2v1h-2zM96 184h4v1h-4zM103 184h3v1h-3zM107 184h2v1h-2zM92 185h2v1h-2zM95 185h2v1h-2zM98 185h1v1h-1zM100 185h1v1h-1zM102 185h1v1h-1zM104 185h1v1h-1zM108 185h1v1h-1zM92 186h3v1h-3zM96 186h1v1h-1zM98 186h6v1h-6zM106 186h2v1h-2zM97 187h5v1h-5zM107 187h3v1h-3zM99 188h2v1h-2zM102 188h2v1h-2zM105 188h3v1h-3zM109 188h1v1h-1zM115 188h2v1h-2zM82 189h1v1h-1zM100 189h1v1h-1zM102 189h9v1h-9zM82 190h2v1h-2zM100 190h4v1h-4zM105 190h3v1h-3zM109 190h1v1h-1zM89 191h6v1h-6zM100 191h3v1h-3zM104 191h1v1h-1zM107 191h2v1h-2zM82 192h1v1h-1zM93 192h1v1h-1zM100 192h4v1h-4zM88 193h1v1h-1zM90 193h1v1h-1zM92 193h2v1h-2zM98 193h1v1h-1zM100 193h1v1h-1zM102 193h1v1h-1zM90 194h3v1h-3zM96 194h2v1h-2zM99 194h1v1h-1zM101 194h2v1h-2zM104 194h5v1h-5zM87 195h1v1h-1zM89 195h3v1h-3zM97 195h1v1h-1zM101 195h3v1h-3zM106 195h1v1h-1zM108 195h1v1h-1zM87 196h1v1h-1zM89 196h1v1h-1zM97 196h1v1h-1zM99 196h8v1h-8zM96 197h4v1h-4zM104 197h1v1h-1zM106 197h1v1h-1zM82 198h1v1h-1zM94 198h1v1h-1zM98 198h1v1h-1zM100 198h1v1h-1zM103 198h2v1h-2zM92 199h1v1h-1zM94 199h1v1h-1zM96 199h1v1h-1zM98 199h2v1h-2zM101 199h1v1h-1zM92 200h2v1h-2zM96 200h1v1h-1zM98 200h1v1h-1zM101 200h1v1h-1zM103 200h1v1h-1zM105 200h1v1h-1zM92 201h3v1h-3zM98 201h5v1h-5zM89 202h1v1h-1zM91 202h1v1h-1zM93 202h1v1h-1zM97 202h7v1h-7zM106 202h2v1h-2zM91 203h4v1h-4zM97 203h4v1h-4zM102 203h2v1h-2zM106 203h1v1h-1zM91 204h3v1h-3zM100 204h3v1h-3zM107 204h2v1h-2zM115 204h1v1h-1zM91 205h1v1h-1zM93 205h2v1h-2zM99 205h3v1h-3zM105 205h1v1h-1zM116 205h1v1h-1zM92 206h1v1h-1zM94 206h2v1h-2zM99 206h4v1h-4zM95 207h1v1h-1zM98 207h4v1h-4zM97 208h1v1h-1zM99 208h2v1h-2zM86 209h1v1h-1zM93 209h1v1h-1zM96 209h1v1h-1zM104 209h1v1h-1zM106 209h1v1h-1zM87 210h1v1h-1zM90 210h1v1h-1zM94 210h1v1h-1zM107 210h1v1h-1zM77 211h1v1h-1zM91 211h1v1h-1zM93 211h2v1h-2zM103 211h2v1h-2zM108 211h1v1h-1z"/>
<path fill="#ffff66" d="M1 0h1v1h-1zM3 0h4v1h-4zM8 0h2v1h-2zM17 0h1v1h-1zM20 0h1v1h-1zM35 0h3v1h-3zM40 0h1v1h-1zM74 0h2v1h-2zM89 0h3v1h-3zM114 0h1v1h-1zM116 0h5v1h-5zM1 1h3v1h-3zM5 1h2v1h-2zM8 1h2v1h-2zM12 1h1v1h-1zM15 1h2v1h-2zM22 1h1v1h-1zM27 1h1v1h-1zM30 1h1v1h-1zM33 1h1v1h-1zM35 1h2v1h-2zM41 1h1v1h-1zM81 1h1v1h-1zM94 1h1v1h-1zM103 1h1v1h-1zM116 1h4v1h-4zM0 2h2v1h-2zM3 2h5v1h-5zM9 2h1v1h-1zM11 2h1v1h-1zM21 2h2v1h-2zM24 2h1v1h-1zM26 2h1v1h-1zM28 2h1v1h-1zM34 2h2v1h-2zM38 2h1v1h-1zM40 2h1v1h-1zM61 2h1v1h-1zM65 2h1v1h-1zM68 2h1v1h-1zM94 2h2v1h-2zM113 2h1v1h-1zM118 2h2v1h-2zM121 2h1v1h-1zM127 2h1v1h-1zM3 3h5v1h-5zM11 3h1v1h-1zM14 3h1v1h-1zM18 3h1v1h-1zM26 3h1v1h-1zM28 3h3v1h-3zM33 3h1v1h-1zM39 3h3v1h-3zM61 3h1v1h-1zM65 3h1v1h-1zM72 3h1v1h-1zM89 3h1v1h-1zM91 3h1v1h-1zM113 3h1v1h-1zM118 3h1v1h-1zM120 3h2v1h-2zM126 3h2v1h-2zM0 4h1v1h-1zM4 4h5v1h-5zM11 4h1v1h-1zM17 4h1v1h-1zM28 4h3v1h-3zM32 4h1v1h-1zM39 4h5v1h-5zM64 4h1v1h-1zM67 4h1v1h-1zM72 4h1v1h-1zM74 4h1v1h-1zM77 4h1v1h-1zM89 4h3v1h-3zM101 4h1v1h-1zM118 4h1v1h-1zM121 4h1v1h-1zM124 4h1v1h-1zM127 4h1v1h-1zM0 5h2v1h-2zM4 5h4v1h-4zM9 5h3v1h-3zM16 5h1v1h-1zM18 5h1v1h-1zM27 5h1v1h-1zM29 5h1v1h-1zM31 5h1v1h-1zM38 5h6v1h-6zM45 5h1v1h-1zM70 5h1v1h-1zM72 5h2v1h-2zM88 5h5v1h-5zM116 5h1v1h-1zM128 5h1v1h-1zM0 6h2v1h-2zM5 6h3v1h-3zM9 6h7v1h-7zM26 6h2v1h-2zM29 6h3v1h-3zM37 6h5v1h-5zM43 6h2v1h-2zM46 6h1v1h-1zM70 6h1v1h-1zM87 6h7v1h-7zM104 6h1v1h-1zM109 6h2v1h-2zM116 6h1v1h-1zM118 6h4v1h-4zM125 6h2v1h-2zM0 7h2v1h-2zM4 7h11v1h-11zM16 7h3v1h-3zM20 7h1v1h-1zM24 7h1v1h-1zM26 7h1v1h-1zM30 7h3v1h-3zM38 7h5v1h-5zM47 7h1v1h-1zM68 7h2v1h-2zM72 7h1v1h-1zM89 7h4v1h-4zM108 7h1v1h-1zM111 7h2v1h-2zM116 7h2v1h-2zM120 7h1v1h-1zM124 7h3v1h-3zM0 8h1v1h-1zM5 8h2v1h-2zM8 8h6v1h-6zM15 8h1v1h-1zM19 8h3v1h-3zM23 8h11v1h-11zM39 8h4v1h-4zM47 8h1v1h-1zM79 8h1v1h-1zM103 8h1v1h-1zM108 8h6v1h-6zM118 8h8v1h-8zM0 9h1v1h-1zM2 9h2v1h-2zM6 9h6v1h-6zM17 9h1v1h-1zM20 9h1v1h-1zM22 9h4v1h-4zM28 9h5v1h-5zM39 9h3v1h-3zM66 9h1v1h-1zM69 9h1v1h-1zM103 9h3v1h-3zM111 9h3v1h-3zM117 9h8v1h-8zM1 10h1v1h-1zM3 10h1v1h-1zM5 10h6v1h-6zM12 10h1v1h-1zM19 10h1v1h-1zM21 10h2v1h-2zM25 10h1v1h-1zM29 10h5v1h-5zM39 10h1v1h-1zM41 10h1v1h-1zM50 10h1v1h-1zM60 10h1v1h-1zM70 10h1v1h-1zM74 10h1v1h-1zM95 10h1v1h-1zM105 10h2v1h-2zM111 10h3v1h-3zM118 10h6v1h-6zM1 11h2v1h-2zM5 11h2v1h-2zM8 11h1v1h-1zM11 11h1v1h-1zM19 11h2v1h-2zM23 11h1v1h-1zM25 11h2v1h-2zM31 11h3v1h-3zM39 11h3v1h-3zM94 11h3v1h-3zM111 11h2v1h-2zM116 11h7v1h-7zM0 12h4v1h-4zM7 12h2v1h-2zM10 12h1v1h-1zM18 12h2v1h-2zM22 12h3v1h-3zM27 12h1v1h-1zM32 12h1v1h-1zM40 12h2v1h-2zM112 12h9v1h-9zM0 13h2v1h-2zM4 13h2v1h-2zM9 13h1v1h-1zM18 13h1v1h-1zM22 13h3v1h-3zM39 13h4v1h-4zM46 13h1v1h-1zM101 13h1v1h-1zM113 13h8v1h-8zM0 14h2v1h-2zM7 14h2v1h-2zM18 14h1v1h-1zM21 14h4v1h-4zM26 14h1v1h-1zM32 14h1v1h-1zM34 14h1v1h-1zM40 14h4v1h-4zM47 14h3v1h-3zM88 14h1v1h-1zM107 14h1v1h-1zM117 14h4v1h-4zM0 15h1v1h-1zM5 15h2v1h-2zM22 15h3v1h-3zM26 15h1v1h-1zM28 15h4v1h-4zM40 15h3v1h-3zM46 15h5v1h-5zM68 15h4v1h-4zM106 15h1v1h-1zM113 15h1v1h-1zM116 15h4v1h-4zM0 16h1v1h-1zM5 16h2v1h-2zM28 16h1v1h-1zM40 16h14v1h-14zM69 16h1v1h-1zM108 16h2v1h-2zM116 16h4v1h-4zM0 17h2v1h-2zM3 17h3v1h-3zM13 17h2v1h-2zM16 17h1v1h-1zM29 17h1v1h-1zM31 17h1v1h-1zM33 17h2v1h-2zM40 17h15v1h-15zM68 17h2v1h-2zM104 17h1v1h-1zM106 17h1v1h-1zM109 17h2v1h-2zM113 17h7v1h-7zM0 18h2v1h-2zM4 18h1v1h-1zM7 18h3v1h-3zM11 18h1v1h-1zM13 18h1v1h-1zM17 18h1v1h-1zM33 18h1v1h-1zM40 18h4v1h-4zM45 18h9v1h-9zM101 18h1v1h-1zM104 18h1v1h-1zM111 18h1v1h-1zM113 18h7v1h-7zM0 19h2v1h-2zM3 19h5v1h-5zM13 19h1v1h-1zM16 19h1v1h-1zM39 19h4v1h-4zM46 19h6v1h-6zM53 19h1v1h-1zM102 19h2v1h-2zM115 19h2v1h-2zM118 19h1v1h-1zM0 20h2v1h-2zM4 20h4v1h-4zM11 20h3v1h-3zM15 20h1v1h-1zM38 20h5v1h-5zM48 20h1v1h-1zM59 20h1v1h-1zM72 20h1v1h-1zM111 20h1v1h-1zM115 20h5v1h-5zM1 21h2v1h-2zM4 21h3v1h-3zM8 21h2v1h-2zM14 21h1v1h-1zM38 21h5v1h-5zM60 21h1v1h-1zM72 21h1v1h-1zM74 21h1v1h-1zM111 21h2v1h-2zM116 21h5v1h-5zM7 22h1v1h-1zM9 22h1v1h-1zM14 22h1v1h-1zM39 22h4v1h-4zM69 22h1v1h-1zM75 22h1v1h-1zM104 22h1v1h-1zM108 22h1v1h-1zM115 22h4v1h-4zM120 22h1v1h-1zM5 23h1v1h-1zM9 23h1v1h-1zM12 23h2v1h-2zM38 23h6v1h-6zM63 23h1v1h-1zM65 23h1v1h-1zM67 23h1v1h-1zM113 23h1v1h-1zM115 23h6v1h-6zM6 24h2v1h-2zM9 24h1v1h-1zM11 24h2v1h-2zM40 24h4v1h-4zM61 24h4v1h-4zM66 24h1v1h-1zM68 24h1v1h-1zM71 24h1v1h-1zM111 24h1v1h-1zM115 24h5v1h-5zM39 25h2v1h-2zM44 25h1v1h-1zM47 25h1v1h-1zM61 25h2v1h-2zM64 25h2v1h-2zM67 25h1v1h-1zM104 25h1v1h-1zM111 25h1v1h-1zM114 25h1v1h-1zM116 25h4v1h-4zM41 26h2v1h-2zM46 26h4v1h-4zM62 26h2v1h-2zM67 26h1v1h-1zM71 26h1v1h-1zM112 26h2v1h-2zM117 26h2v1h-2zM42 27h1v1h-1zM62 27h1v1h-1zM69 27h1v1h-1zM71 27h1v1h-1zM111 27h4v1h-4zM118 27h1v1h-1zM43 28h1v1h-1zM48 28h1v1h-1zM52 28h1v1h-1zM68 28h1v1h-1zM109 28h1v1h-1zM113 28h1v1h-1zM116 28h2v1h-2zM119 28h1v1h-1zM52 29h1v1h-1zM75 29h1v1h-1zM108 29h1v1h-1zM114 29h5v1h-5zM42 30h1v1h-1zM69 30h2v1h-2zM74 30h3v1h-3zM116 30h5v1h-5zM41 31h1v1h-1zM48 31h2v1h-2zM70 31h2v1h-2zM73 31h3v1h-3zM114 31h6v1h-6zM41 32h4v1h-4zM67 32h1v1h-1zM69 32h1v1h-1zM72 32h1v1h-1zM111 32h1v1h-1zM114 32h6v1h-6zM41 33h1v1h-1zM43 33h1v1h-1zM46 33h4v1h-4zM68 33h2v1h-2zM71 33h1v1h-1zM116 33h3v1h-3zM42 34h1v1h-1zM44 34h1v1h-1zM47 34h3v1h-3zM54 34h1v1h-1zM66 34h7v1h-7zM114 34h4v1h-4zM44 35h1v1h-1zM68 35h1v1h-1zM70 35h2v1h-2zM106 35h1v1h-1zM114 35h3v1h-3zM43 36h1v1h-1zM45 36h1v1h-1zM49 36h1v1h-1zM56 36h2v1h-2zM80 36h3v1h-3zM105 36h2v1h-2zM110 36h2v1h-2zM113 36h1v1h-1zM115 36h1v1h-1zM43 37h1v1h-1zM45 37h1v1h-1zM47 37h1v1h-1zM49 37h1v1h-1zM72 37h1v1h-1zM74 37h1v1h-1zM77 37h1v1h-1zM80 37h1v1h-1zM82 37h2v1h-2zM104 37h1v1h-1zM108 37h7v1h-7zM44 38h2v1h-2zM73 38h1v1h-1zM76 38h2v1h-2zM81 38h1v1h-1zM104 38h2v1h-2zM107 38h1v1h-1zM109 38h6v1h-6zM43 39h3v1h-3zM72 39h6v1h-6zM79 39h2v1h-2zM87 39h1v1h-1zM91 39h1v1h-1zM107 39h1v1h-1zM109 39h5v1h-5zM43 40h3v1h-3zM74 40h1v1h-1zM76 40h3v1h-3zM81 40h2v1h-2zM88 40h4v1h-4zM109 40h4v1h-4zM43 41h3v1h-3zM73 41h3v1h-3zM77 41h2v1h-2zM80 41h3v1h-3zM84 41h1v1h-1zM90 41h1v1h-1zM105 41h1v1h-1zM107 41h6v1h-6zM43 42h3v1h-3zM47 42h2v1h-2zM53 42h1v1h-1zM73 42h5v1h-5zM79 42h9v1h-9zM91 42h1v1h-1zM108 42h4v1h-4zM43 43h3v1h-3zM47 43h2v1h-2zM75 43h1v1h-1zM79 43h7v1h-7zM110 43h1v1h-1zM43 44h5v1h-5zM49 44h1v1h-1zM51 44h1v1h-1zM53 44h2v1h-2zM78 44h8v1h-8zM92 44h1v1h-1zM98 44h1v1h-1zM107 44h1v1h-1zM109 44h2v1h-2zM43 45h3v1h-3zM48 45h1v1h-1zM52 45h2v1h-2zM75 45h2v1h-2zM78 45h7v1h-7zM88 45h1v1h-1zM93 45h1v1h-1zM98 45h2v1h-2zM101 45h1v1h-1zM109 45h2v1h-2zM43 46h4v1h-4zM52 46h2v1h-2zM75 46h1v1h-1zM78 46h7v1h-7zM91 46h2v1h-2zM97 46h3v1h-3zM101 46h2v1h-2zM105 46h1v1h-1zM44 47h5v1h-5zM71 47h1v1h-1zM73 47h1v1h-1zM79 47h5v1h-5zM92 47h1v1h-1zM98 47h1v1h-1zM100 47h2v1h-2zM44 48h6v1h-6zM71 48h1v1h-1zM79 48h5v1h-5zM91 48h3v1h-3zM97 48h7v1h-7zM44 49h6v1h-6zM71 49h2v1h-2zM79 49h1v1h-1zM81 49h2v1h-2zM84 49h1v1h-1zM92 49h2v1h-2zM98 49h4v1h-4zM44 50h6v1h-6zM72 50h1v1h-1zM79 50h2v1h-2zM95 50h8v1h-8zM106 50h2v1h-2zM44 51h4v1h-4zM79 51h3v1h-3zM83 51h3v1h-3zM94 51h2v1h-2zM97 51h6v1h-6zM104 51h4v1h-4zM45 52h3v1h-3zM51 52h1v1h-1zM53 52h1v1h-1zM79 52h1v1h-1zM81 52h3v1h-3zM85 52h2v1h-2zM88 52h2v1h-2zM93 52h5v1h-5zM99 52h4v1h-4zM104 52h2v1h-2zM107 52h3v1h-3zM45 53h3v1h-3zM49 53h1v1h-1zM76 53h1v1h-1zM79 53h2v1h-2zM83 53h1v1h-1zM86 53h2v1h-2zM89 53h1v1h-1zM95 53h15v1h-15zM45 54h5v1h-5zM77 54h1v1h-1zM79 54h2v1h-2zM83 54h4v1h-4zM89 54h1v1h-1zM95 54h15v1h-15zM45 55h4v1h-4zM78 55h9v1h-9zM88 55h2v1h-2zM91 55h1v1h-1zM93 55h15v1h-15zM109 55h1v1h-1zM111 55h1v1h-1zM45 56h3v1h-3zM75 56h1v1h-1zM79 56h11v1h-11zM91 56h2v1h-2zM94 56h6v1h-6zM101 56h2v1h-2zM104 56h4v1h-4zM111 56h1v1h-1zM46 57h2v1h-2zM79 57h14v1h-14zM94 57h7v1h-7zM102 57h1v1h-1zM104 57h4v1h-4zM111 57h1v1h-1zM46 58h2v1h-2zM53 58h1v1h-1zM78 58h22v1h-22zM101 58h2v1h-2zM104 58h5v1h-5zM110 58h2v1h-2zM46 59h2v1h-2zM54 59h1v1h-1zM75 59h1v1h-1zM77 59h3v1h-3zM81 59h4v1h-4zM90 59h1v1h-1zM94 59h1v1h-1zM96 59h4v1h-4zM101 59h6v1h-6zM111 59h1v1h-1zM46 60h1v1h-1zM75 60h11v1h-11zM87 60h1v1h-1zM91 60h2v1h-2zM94 60h3v1h-3zM100 60h2v1h-2zM103 60h4v1h-4zM46 61h2v1h-2zM76 61h1v1h-1zM78 61h2v1h-2zM81 61h6v1h-6zM88 61h1v1h-1zM90 61h1v1h-1zM92 61h5v1h-5zM99 61h1v1h-1zM101 61h6v1h-6zM112 61h1v1h-1zM73 62h1v1h-1zM75 62h3v1h-3zM80 62h1v1h-1zM82 62h3v1h-3zM86 62h2v1h-2zM91 62h9v1h-9zM102 62h1v1h-1zM104 62h1v1h-1zM112 62h1v1h-1zM47 63h1v1h-1zM76 63h2v1h-2zM80 63h7v1h-7zM90 63h1v1h-1zM92 63h12v1h-12zM47 64h2v1h-2zM50 64h1v1h-1zM76 64h1v1h-1zM81 64h6v1h-6zM90 64h15v1h-15zM112 64h2v1h-2zM48 65h2v1h-2zM51 65h1v1h-1zM77 65h1v1h-1zM81 65h5v1h-5zM91 65h13v1h-13zM110 65h3v1h-3zM48 66h2v1h-2zM82 66h4v1h-4zM91 66h13v1h-13zM109 66h3v1h-3zM113 66h1v1h-1zM116 66h1v1h-1zM118 66h2v1h-2zM49 67h1v1h-1zM77 67h1v1h-1zM79 67h10v1h-10zM90 67h13v1h-13zM104 67h21v1h-21zM49 68h2v1h-2zM80 68h8v1h-8zM90 68h4v1h-4zM95 68h5v1h-5zM101 68h32v1h-32zM49 69h4v1h-4zM71 69h1v1h-1zM76 69h2v1h-2zM79 69h11v1h-11zM92 69h8v1h-8zM102 69h6v1h-6zM110 69h22v1h-22zM133 69h1v1h-1zM136 69h1v1h-1zM50 70h3v1h-3zM77 70h2v1h-2zM80 70h12v1h-12zM94 70h6v1h-6zM101 70h8v1h-8zM110 70h7v1h-7zM118 70h8v1h-8zM127 70h5v1h-5zM50 71h3v1h-3zM74 71h3v1h-3zM78 71h14v1h-14zM93 71h22v1h-22zM117 71h2v1h-2zM120 71h7v1h-7zM50 72h4v1h-4zM74 72h2v1h-2zM77 72h33v1h-33zM112 72h1v1h-1zM116 72h1v1h-1zM120 72h4v1h-4zM138 72h1v1h-1zM51 73h4v1h-4zM76 73h2v1h-2zM79 73h18v1h-18zM99 73h6v1h-6zM108 73h2v1h-2zM114 73h1v1h-1zM121 73h2v1h-2zM137 73h2v1h-2zM52 74h2v1h-2zM78 74h1v1h-1zM80 74h17v1h-17zM98 74h1v1h-1zM100 74h4v1h-4zM107 74h4v1h-4zM128 74h2v1h-2zM138 74h1v1h-1zM52 75h3v1h-3zM79 75h25v1h-25zM108 75h2v1h-2zM52 76h4v1h-4zM77 76h1v1h-1zM79 76h2v1h-2zM83 76h16v1h-16zM100 76h5v1h-5zM108 76h3v1h-3zM125 76h1v1h-1zM127 76h1v1h-1zM53 77h4v1h-4zM77 77h15v1h-15zM93 77h10v1h-10zM108 77h1v1h-1zM125 77h1v1h-1zM55 78h3v1h-3zM76 78h14v1h-14zM92 78h12v1h-12zM111 78h1v1h-1zM144 78h1v1h-1zM55 79h3v1h-3zM59 79h1v1h-1zM76 79h1v1h-1zM78 79h13v1h-13zM92 79h1v1h-1zM94 79h10v1h-10zM145 79h2v1h-2zM56 80h4v1h-4zM61 80h2v1h-2zM77 80h1v1h-1zM79 80h18v1h-18zM98 80h3v1h-3zM102 80h3v1h-3zM131 80h1v1h-1zM57 81h3v1h-3zM66 81h1v1h-1zM77 81h1v1h-1zM80 81h16v1h-16zM97 81h5v1h-5zM103 81h1v1h-1zM131 81h1v1h-1zM148 81h1v1h-1zM61 82h1v1h-1zM64 82h1v1h-1zM78 82h10v1h-10zM89 82h5v1h-5zM95 82h9v1h-9zM106 82h1v1h-1zM111 82h2v1h-2zM148 82h3v1h-3zM62 83h2v1h-2zM78 83h1v1h-1zM80 83h12v1h-12zM94 83h4v1h-4zM99 83h1v1h-1zM102 83h1v1h-1zM104 83h4v1h-4zM140 83h1v1h-1zM149 83h4v1h-4zM64 84h1v1h-1zM77 84h1v1h-1zM80 84h10v1h-10zM91 84h1v1h-1zM94 84h3v1h-3zM101 84h1v1h-1zM104 84h3v1h-3zM118 84h1v1h-1zM140 84h1v1h-1zM150 84h4v1h-4zM77 85h1v1h-1zM82 85h7v1h-7zM94 85h5v1h-5zM102 85h6v1h-6zM148 85h5v1h-5zM63 86h2v1h-2zM75 86h1v1h-1zM77 86h1v1h-1zM81 86h6v1h-6zM89 86h1v1h-1zM94 86h5v1h-5zM101 86h1v1h-1zM104 86h1v1h-1zM61 87h3v1h-3zM76 87h2v1h-2zM83 87h8v1h-8zM94 87h1v1h-1zM96 87h1v1h-1zM98 87h1v1h-1zM104 87h2v1h-2zM62 88h3v1h-3zM76 88h3v1h-3zM83 88h7v1h-7zM91 88h4v1h-4zM96 88h2v1h-2zM103 88h1v1h-1zM143 88h2v1h-2zM152 88h1v1h-1zM63 89h2v1h-2zM76 89h16v1h-16zM93 89h2v1h-2zM96 89h1v1h-1zM106 89h1v1h-1zM143 89h1v1h-1zM148 89h1v1h-1zM157 89h1v1h-1zM63 90h2v1h-2zM77 90h2v1h-2zM80 90h15v1h-15zM103 90h1v1h-1zM145 90h1v1h-1zM153 90h1v1h-1zM156 90h1v1h-1zM161 90h1v1h-1zM64 91h1v1h-1zM76 91h17v1h-17zM95 91h1v1h-1zM119 91h1v1h-1zM150 91h1v1h-1zM155 91h2v1h-2zM64 92h2v1h-2zM77 92h16v1h-16zM150 92h1v1h-1zM64 93h2v1h-2zM77 93h17v1h-17zM147 93h2v1h-2zM162 93h2v1h-2zM166 93h4v1h-4zM64 94h3v1h-3zM77 94h18v1h-18zM96 94h1v1h-1zM160 94h1v1h-1zM163 94h1v1h-1zM165 94h6v1h-6zM65 95h2v1h-2zM77 95h17v1h-17zM95 95h2v1h-2zM131 95h1v1h-1zM144 95h1v1h-1zM161 95h9v1h-9zM65 96h3v1h-3zM77 96h18v1h-18zM147 96h1v1h-1zM161 96h9v1h-9zM66 97h4v1h-4zM76 97h1v1h-1zM78 97h17v1h-17zM159 97h1v1h-1zM161 97h8v1h-8zM66 98h4v1h-4zM77 98h21v1h-21zM147 98h2v1h-2zM155 98h1v1h-1zM163 98h7v1h-7zM66 99h4v1h-4zM76 99h18v1h-18zM95 99h1v1h-1zM97 99h1v1h-1zM146 99h3v1h-3zM150 99h1v1h-1zM155 99h3v1h-3zM164 99h5v1h-5zM66 100h4v1h-4zM76 100h23v1h-23zM141 100h1v1h-1zM146 100h5v1h-5zM152 100h1v1h-1zM154 100h7v1h-7zM165 100h1v1h-1zM167 100h1v1h-1zM67 101h3v1h-3zM76 101h18v1h-18zM95 101h3v1h-3zM142 101h1v1h-1zM144 101h5v1h-5zM151 101h1v1h-1zM154 101h7v1h-7zM163 101h2v1h-2zM67 102h3v1h-3zM76 102h19v1h-19zM96 102h1v1h-1zM99 102h1v1h-1zM138 102h2v1h-2zM141 102h1v1h-1zM146 102h3v1h-3zM152 102h10v1h-10zM163 102h4v1h-4zM67 103h3v1h-3zM76 103h20v1h-20zM126 103h2v1h-2zM140 103h3v1h-3zM147 103h1v1h-1zM150 103h2v1h-2zM153 103h7v1h-7zM161 103h7v1h-7zM67 104h3v1h-3zM76 104h20v1h-20zM97 104h1v1h-1zM99 104h1v1h-1zM105 104h1v1h-1zM126 104h1v1h-1zM128 104h1v1h-1zM137 104h1v1h-1zM139 104h1v1h-1zM146 104h1v1h-1zM148 104h1v1h-1zM150 104h2v1h-2zM153 104h5v1h-5zM160 104h3v1h-3zM164 104h1v1h-1zM166 104h1v1h-1zM67 105h3v1h-3zM76 105h22v1h-22zM105 105h1v1h-1zM128 105h1v1h-1zM140 105h1v1h-1zM146 105h3v1h-3zM150 105h9v1h-9zM160 105h5v1h-5zM166 105h1v1h-1zM68 106h2v1h-2zM76 106h23v1h-23zM145 106h10v1h-10zM156 106h8v1h-8zM165 106h2v1h-2zM68 107h2v1h-2zM75 107h1v1h-1zM77 107h17v1h-17zM95 107h4v1h-4zM124 107h3v1h-3zM128 107h1v1h-1zM145 107h2v1h-2zM148 107h2v1h-2zM151 107h2v1h-2zM154 107h1v1h-1zM156 107h2v1h-2zM159 107h3v1h-3zM163 107h4v1h-4zM68 108h2v1h-2zM77 108h15v1h-15zM96 108h3v1h-3zM124 108h5v1h-5zM145 108h8v1h-8zM156 108h1v1h-1zM158 108h3v1h-3zM162 108h5v1h-5zM68 109h2v1h-2zM78 109h14v1h-14zM93 109h1v1h-1zM95 109h3v1h-3zM123 109h8v1h-8zM146 109h8v1h-8zM156 109h1v1h-1zM158 109h1v1h-1zM161 109h6v1h-6zM68 110h2v1h-2zM78 110h14v1h-14zM98 110h1v1h-1zM101 110h1v1h-1zM123 110h7v1h-7zM133 110h1v1h-1zM146 110h6v1h-6zM153 110h2v1h-2zM162 110h1v1h-1zM166 110h1v1h-1zM68 111h2v1h-2zM78 111h16v1h-16zM95 111h1v1h-1zM124 111h5v1h-5zM147 111h8v1h-8zM157 111h1v1h-1zM159 111h2v1h-2zM165 111h2v1h-2zM68 112h3v1h-3zM77 112h20v1h-20zM98 112h2v1h-2zM108 112h1v1h-1zM135 112h1v1h-1zM141 112h1v1h-1zM144 112h1v1h-1zM147 112h6v1h-6zM154 112h4v1h-4zM159 112h1v1h-1zM164 112h3v1h-3zM69 113h1v1h-1zM76 113h4v1h-4zM81 113h14v1h-14zM96 113h1v1h-1zM108 113h1v1h-1zM133 113h1v1h-1zM137 113h1v1h-1zM141 113h2v1h-2zM147 113h1v1h-1zM149 113h8v1h-8zM158 113h1v1h-1zM165 113h2v1h-2zM68 114h2v1h-2zM79 114h14v1h-14zM94 114h1v1h-1zM96 114h2v1h-2zM103 114h1v1h-1zM109 114h1v1h-1zM134 114h1v1h-1zM141 114h3v1h-3zM149 114h4v1h-4zM154 114h1v1h-1zM156 114h3v1h-3zM164 114h4v1h-4zM68 115h3v1h-3zM79 115h5v1h-5zM85 115h8v1h-8zM109 115h1v1h-1zM141 115h2v1h-2zM149 115h3v1h-3zM153 115h1v1h-1zM156 115h3v1h-3zM166 115h1v1h-1zM69 116h2v1h-2zM78 116h8v1h-8zM88 116h7v1h-7zM97 116h1v1h-1zM141 116h1v1h-1zM150 116h1v1h-1zM156 116h1v1h-1zM158 116h1v1h-1zM165 116h1v1h-1zM167 116h3v1h-3zM69 117h1v1h-1zM77 117h7v1h-7zM85 117h1v1h-1zM87 117h2v1h-2zM91 117h4v1h-4zM138 117h3v1h-3zM147 117h1v1h-1zM155 117h2v1h-2zM161 117h9v1h-9zM69 118h2v1h-2zM76 118h9v1h-9zM86 118h6v1h-6zM94 118h1v1h-1zM139 118h3v1h-3zM145 118h1v1h-1zM147 118h1v1h-1zM149 118h1v1h-1zM156 118h1v1h-1zM164 118h6v1h-6zM69 119h2v1h-2zM77 119h5v1h-5zM83 119h7v1h-7zM93 119h2v1h-2zM106 119h1v1h-1zM132 119h2v1h-2zM140 119h1v1h-1zM147 119h1v1h-1zM165 119h2v1h-2zM168 119h1v1h-1zM69 120h2v1h-2zM78 120h9v1h-9zM88 120h1v1h-1zM90 120h2v1h-2zM93 120h1v1h-1zM95 120h2v1h-2zM106 120h1v1h-1zM130 120h1v1h-1zM133 120h1v1h-1zM142 120h2v1h-2zM164 120h3v1h-3zM168 120h1v1h-1zM69 121h2v1h-2zM77 121h11v1h-11zM89 121h1v1h-1zM92 121h6v1h-6zM105 121h2v1h-2zM130 121h1v1h-1zM134 121h1v1h-1zM140 121h4v1h-4zM161 121h1v1h-1zM163 121h5v1h-5zM69 122h3v1h-3zM78 122h3v1h-3zM82 122h6v1h-6zM89 122h1v1h-1zM93 122h3v1h-3zM97 122h1v1h-1zM140 122h4v1h-4zM153 122h1v1h-1zM157 122h3v1h-3zM162 122h6v1h-6zM70 123h2v1h-2zM77 123h11v1h-11zM92 123h1v1h-1zM94 123h2v1h-2zM97 123h1v1h-1zM101 123h1v1h-1zM137 123h1v1h-1zM142 123h3v1h-3zM150 123h1v1h-1zM154 123h1v1h-1zM156 123h12v1h-12zM69 124h3v1h-3zM77 124h11v1h-11zM89 124h1v1h-1zM93 124h5v1h-5zM99 124h1v1h-1zM141 124h4v1h-4zM147 124h2v1h-2zM151 124h2v1h-2zM154 124h1v1h-1zM157 124h11v1h-11zM69 125h3v1h-3zM78 125h11v1h-11zM94 125h4v1h-4zM143 125h9v1h-9zM155 125h12v1h-12zM70 126h1v1h-1zM79 126h10v1h-10zM93 126h6v1h-6zM144 126h8v1h-8zM154 126h13v1h-13zM70 127h2v1h-2zM79 127h5v1h-5zM85 127h6v1h-6zM92 127h7v1h-7zM127 127h1v1h-1zM129 127h1v1h-1zM141 127h11v1h-11zM153 127h1v1h-1zM155 127h12v1h-12zM70 128h2v1h-2zM78 128h1v1h-1zM80 128h2v1h-2zM83 128h4v1h-4zM88 128h3v1h-3zM93 128h4v1h-4zM125 128h1v1h-1zM137 128h1v1h-1zM140 128h12v1h-12zM157 128h10v1h-10zM70 129h4v1h-4zM77 129h1v1h-1zM79 129h1v1h-1zM81 129h10v1h-10zM92 129h3v1h-3zM134 129h1v1h-1zM142 129h10v1h-10zM158 129h9v1h-9zM70 130h4v1h-4zM75 130h1v1h-1zM77 130h1v1h-1zM79 130h4v1h-4zM85 130h2v1h-2zM88 130h2v1h-2zM101 130h2v1h-2zM143 130h2v1h-2zM146 130h6v1h-6zM154 130h1v1h-1zM156 130h11v1h-11zM70 131h3v1h-3zM81 131h6v1h-6zM88 131h3v1h-3zM100 131h2v1h-2zM126 131h1v1h-1zM136 131h2v1h-2zM140 131h1v1h-1zM143 131h1v1h-1zM146 131h7v1h-7zM155 131h13v1h-13zM71 132h2v1h-2zM77 132h4v1h-4zM87 132h4v1h-4zM99 132h1v1h-1zM102 132h1v1h-1zM134 132h1v1h-1zM136 132h2v1h-2zM139 132h2v1h-2zM142 132h1v1h-1zM145 132h1v1h-1zM147 132h1v1h-1zM153 132h1v1h-1zM155 132h1v1h-1zM157 132h11v1h-11zM71 133h2v1h-2zM74 133h1v1h-1zM80 133h1v1h-1zM82 133h2v1h-2zM87 133h3v1h-3zM96 133h3v1h-3zM131 133h1v1h-1zM133 133h2v1h-2zM136 133h4v1h-4zM142 133h1v1h-1zM144 133h1v1h-1zM148 133h3v1h-3zM153 133h4v1h-4zM159 133h10v1h-10zM71 134h3v1h-3zM76 134h1v1h-1zM80 134h2v1h-2zM83 134h7v1h-7zM91 134h1v1h-1zM93 134h1v1h-1zM95 134h1v1h-1zM111 134h1v1h-1zM126 134h1v1h-1zM130 134h1v1h-1zM132 134h1v1h-1zM134 134h1v1h-1zM136 134h19v1h-19zM156 134h14v1h-14zM71 135h1v1h-1zM77 135h1v1h-1zM80 135h2v1h-2zM83 135h17v1h-17zM128 135h2v1h-2zM131 135h2v1h-2zM137 135h10v1h-10zM148 135h10v1h-10zM159 135h1v1h-1zM161 135h8v1h-8zM170 135h1v1h-1zM75 136h1v1h-1zM80 136h1v1h-1zM82 136h6v1h-6zM89 136h8v1h-8zM98 136h1v1h-1zM117 136h1v1h-1zM138 136h4v1h-4zM143 136h14v1h-14zM158 136h1v1h-1zM160 136h12v1h-12zM81 137h5v1h-5zM90 137h8v1h-8zM126 137h2v1h-2zM131 137h1v1h-1zM138 137h10v1h-10zM150 137h2v1h-2zM153 137h5v1h-5zM159 137h12v1h-12zM77 138h1v1h-1zM80 138h5v1h-5zM86 138h14v1h-14zM102 138h1v1h-1zM116 138h3v1h-3zM127 138h1v1h-1zM138 138h8v1h-8zM149 138h3v1h-3zM154 138h3v1h-3zM158 138h1v1h-1zM161 138h8v1h-8zM170 138h1v1h-1zM174 138h1v1h-1zM77 139h1v1h-1zM81 139h11v1h-11zM95 139h5v1h-5zM103 139h1v1h-1zM113 139h3v1h-3zM118 139h1v1h-1zM126 139h1v1h-1zM136 139h1v1h-1zM138 139h1v1h-1zM144 139h9v1h-9zM154 139h1v1h-1zM157 139h2v1h-2zM161 139h4v1h-4zM167 139h4v1h-4zM82 140h10v1h-10zM93 140h1v1h-1zM99 140h1v1h-1zM102 140h1v1h-1zM114 140h2v1h-2zM127 140h1v1h-1zM134 140h1v1h-1zM137 140h1v1h-1zM145 140h6v1h-6zM152 140h2v1h-2zM155 140h1v1h-1zM158 140h5v1h-5zM164 140h1v1h-1zM166 140h1v1h-1zM168 140h2v1h-2zM80 141h22v1h-22zM113 141h1v1h-1zM118 141h2v1h-2zM129 141h1v1h-1zM131 141h1v1h-1zM135 141h1v1h-1zM140 141h1v1h-1zM142 141h1v1h-1zM144 141h7v1h-7zM154 141h6v1h-6zM161 141h9v1h-9zM77 142h1v1h-1zM79 142h24v1h-24zM115 142h2v1h-2zM118 142h4v1h-4zM131 142h1v1h-1zM141 142h1v1h-1zM144 142h1v1h-1zM146 142h4v1h-4zM151 142h9v1h-9zM162 142h1v1h-1zM164 142h4v1h-4zM76 143h3v1h-3zM80 143h18v1h-18zM101 143h2v1h-2zM108 143h1v1h-1zM112 143h1v1h-1zM116 143h5v1h-5zM122 143h1v1h-1zM124 143h1v1h-1zM131 143h2v1h-2zM135 143h1v1h-1zM138 143h3v1h-3zM142 143h9v1h-9zM153 143h1v1h-1zM155 143h4v1h-4zM162 143h7v1h-7zM170 143h1v1h-1zM76 144h22v1h-22zM107 144h3v1h-3zM111 144h3v1h-3zM116 144h7v1h-7zM132 144h2v1h-2zM135 144h1v1h-1zM139 144h1v1h-1zM143 144h5v1h-5zM150 144h1v1h-1zM155 144h1v1h-1zM157 144h1v1h-1zM164 144h3v1h-3zM76 145h1v1h-1zM78 145h3v1h-3zM82 145h1v1h-1zM84 145h15v1h-15zM101 145h1v1h-1zM107 145h1v1h-1zM109 145h2v1h-2zM113 145h1v1h-1zM115 145h8v1h-8zM132 145h2v1h-2zM142 145h4v1h-4zM147 145h1v1h-1zM149 145h1v1h-1zM155 145h1v1h-1zM157 145h1v1h-1zM166 145h2v1h-2zM77 146h5v1h-5zM83 146h15v1h-15zM100 146h2v1h-2zM109 146h1v1h-1zM113 146h11v1h-11zM131 146h1v1h-1zM138 146h1v1h-1zM140 146h1v1h-1zM142 146h6v1h-6zM164 146h2v1h-2zM167 146h1v1h-1zM77 147h8v1h-8zM86 147h11v1h-11zM103 147h1v1h-1zM106 147h1v1h-1zM114 147h10v1h-10zM140 147h8v1h-8zM155 147h1v1h-1zM163 147h1v1h-1zM165 147h3v1h-3zM79 148h3v1h-3zM84 148h1v1h-1zM86 148h13v1h-13zM101 148h5v1h-5zM112 148h11v1h-11zM126 148h2v1h-2zM134 148h1v1h-1zM136 148h2v1h-2zM139 148h2v1h-2zM142 148h1v1h-1zM144 148h3v1h-3zM165 148h2v1h-2zM170 148h1v1h-1zM80 149h10v1h-10zM91 149h5v1h-5zM97 149h1v1h-1zM102 149h2v1h-2zM106 149h1v1h-1zM110 149h3v1h-3zM114 149h9v1h-9zM124 149h3v1h-3zM136 149h1v1h-1zM140 149h7v1h-7zM148 149h1v1h-1zM156 149h2v1h-2zM161 149h3v1h-3zM165 149h3v1h-3zM169 149h1v1h-1zM81 150h16v1h-16zM98 150h2v1h-2zM101 150h5v1h-5zM109 150h16v1h-16zM126 150h1v1h-1zM134 150h2v1h-2zM138 150h1v1h-1zM142 150h2v1h-2zM154 150h4v1h-4zM159 150h4v1h-4zM82 151h5v1h-5zM89 151h7v1h-7zM102 151h4v1h-4zM108 151h15v1h-15zM124 151h3v1h-3zM137 151h1v1h-1zM155 151h3v1h-3zM159 151h1v1h-1zM83 152h5v1h-5zM89 152h5v1h-5zM95 152h4v1h-4zM102 152h1v1h-1zM104 152h4v1h-4zM110 152h15v1h-15zM156 152h1v1h-1zM83 153h17v1h-17zM102 153h7v1h-7zM111 153h13v1h-13zM83 154h3v1h-3zM87 154h12v1h-12zM103 154h2v1h-2zM106 154h6v1h-6zM113 154h11v1h-11zM134 154h1v1h-1zM163 154h2v1h-2zM83 155h3v1h-3zM88 155h5v1h-5zM94 155h6v1h-6zM103 155h10v1h-10zM114 155h10v1h-10zM83 156h3v1h-3zM88 156h6v1h-6zM95 156h1v1h-1zM97 156h1v1h-1zM102 156h21v1h-21zM83 157h4v1h-4zM89 157h6v1h-6zM96 157h1v1h-1zM99 157h2v1h-2zM103 157h20v1h-20zM125 157h3v1h-3zM84 158h2v1h-2zM87 158h4v1h-4zM92 158h5v1h-5zM100 158h1v1h-1zM102 158h8v1h-8zM111 158h12v1h-12zM126 158h1v1h-1zM83 159h2v1h-2zM86 159h9v1h-9zM96 159h1v1h-1zM99 159h1v1h-1zM104 159h5v1h-5zM111 159h10v1h-10zM122 159h1v1h-1zM126 159h1v1h-1zM86 160h12v1h-12zM104 160h17v1h-17zM122 160h1v1h-1zM82 161h2v1h-2zM85 161h3v1h-3zM89 161h1v1h-1zM91 161h5v1h-5zM97 161h1v1h-1zM99 161h1v1h-1zM105 161h1v1h-1zM107 161h4v1h-4zM112 161h9v1h-9zM82 162h3v1h-3zM86 162h5v1h-5zM92 162h6v1h-6zM100 162h1v1h-1zM109 162h11v1h-11zM82 163h12v1h-12zM95 163h4v1h-4zM105 163h2v1h-2zM110 163h8v1h-8zM119 163h1v1h-1zM82 164h8v1h-8zM95 164h1v1h-1zM98 164h1v1h-1zM107 164h1v1h-1zM110 164h1v1h-1zM112 164h6v1h-6zM119 164h1v1h-1zM81 165h9v1h-9zM96 165h2v1h-2zM99 165h1v1h-1zM109 165h8v1h-8zM118 165h1v1h-1zM81 166h7v1h-7zM90 166h1v1h-1zM95 166h3v1h-3zM104 166h2v1h-2zM107 166h1v1h-1zM110 166h8v1h-8zM80 167h11v1h-11zM95 167h1v1h-1zM104 167h3v1h-3zM111 167h6v1h-6zM80 168h6v1h-6zM89 168h2v1h-2zM95 168h2v1h-2zM103 168h3v1h-3zM112 168h5v1h-5zM79 169h4v1h-4zM88 169h3v1h-3zM95 169h1v1h-1zM102 169h4v1h-4zM107 169h1v1h-1zM111 169h2v1h-2zM115 169h2v1h-2zM79 170h1v1h-1zM81 170h4v1h-4zM88 170h3v1h-3zM106 170h1v1h-1zM108 170h7v1h-7zM77 171h1v1h-1zM80 171h4v1h-4zM89 171h1v1h-1zM105 171h2v1h-2zM108 171h1v1h-1zM110 171h3v1h-3zM65 172h2v1h-2zM76 172h1v1h-1zM79 172h6v1h-6zM106 172h3v1h-3zM110 172h1v1h-1zM62 173h13v1h-13zM76 173h1v1h-1zM79 173h6v1h-6zM98 173h1v1h-1zM107 173h1v1h-1zM110 173h2v1h-2zM114 173h1v1h-1zM60 174h1v1h-1zM63 174h11v1h-11zM77 174h2v1h-2zM80 174h3v1h-3zM86 174h1v1h-1zM105 174h1v1h-1zM107 174h1v1h-1zM110 174h4v1h-4zM59 175h3v1h-3zM63 175h16v1h-16zM80 175h3v1h-3zM84 175h1v1h-1zM86 175h1v1h-1zM109 175h1v1h-1zM111 175h3v1h-3zM57 176h3v1h-3zM61 176h1v1h-1zM63 176h19v1h-19zM110 176h5v1h-5zM56 177h4v1h-4zM64 177h3v1h-3zM68 177h10v1h-10zM86 177h1v1h-1zM89 177h2v1h-2zM112 177h4v1h-4zM55 178h24v1h-24zM88 178h2v1h-2zM111 178h4v1h-4zM53 179h11v1h-11zM66 179h14v1h-14zM85 179h1v1h-1zM88 179h1v1h-1zM90 179h1v1h-1zM112 179h2v1h-2zM53 180h12v1h-12zM68 180h13v1h-13zM85 180h3v1h-3zM92 180h1v1h-1zM108 180h1v1h-1zM51 181h14v1h-14zM68 181h8v1h-8zM78 181h6v1h-6zM85 181h2v1h-2zM88 181h1v1h-1zM91 181h1v1h-1zM49 182h1v1h-1zM51 182h16v1h-16zM68 182h18v1h-18zM87 182h2v1h-2zM90 182h2v1h-2zM112 182h2v1h-2zM48 183h1v1h-1zM51 183h15v1h-15zM67 183h7v1h-7zM75 183h3v1h-3zM80 183h10v1h-10zM91 183h1v1h-1zM109 183h4v1h-4zM48 184h1v1h-1zM51 184h1v1h-1zM53 184h4v1h-4zM58 184h5v1h-5zM64 184h2v1h-2zM67 184h13v1h-13zM82 184h5v1h-5zM89 184h3v1h-3zM111 184h3v1h-3zM47 185h2v1h-2zM52 185h4v1h-4zM58 185h1v1h-1zM60 185h5v1h-5zM66 185h4v1h-4zM71 185h8v1h-8zM81 185h1v1h-1zM83 185h8v1h-8zM111 185h3v1h-3zM48 186h2v1h-2zM55 186h2v1h-2zM59 186h12v1h-12zM72 186h8v1h-8zM82 186h9v1h-9zM110 186h5v1h-5zM58 187h6v1h-6zM65 187h1v1h-1zM68 187h2v1h-2zM71 187h9v1h-9zM83 187h7v1h-7zM112 187h4v1h-4zM53 188h2v1h-2zM57 188h6v1h-6zM64 188h2v1h-2zM68 188h1v1h-1zM70 188h2v1h-2zM73 188h8v1h-8zM83 188h6v1h-6zM91 188h1v1h-1zM93 188h2v1h-2zM112 188h2v1h-2zM53 189h1v1h-1zM56 189h1v1h-1zM66 189h1v1h-1zM71 189h2v1h-2zM75 189h5v1h-5zM87 189h1v1h-1zM89 189h1v1h-1zM92 189h1v1h-1zM94 189h2v1h-2zM111 189h4v1h-4zM52 190h1v1h-1zM55 190h8v1h-8zM68 190h3v1h-3zM72 190h1v1h-1zM75 190h3v1h-3zM111 190h3v1h-3zM53 191h1v1h-1zM56 191h2v1h-2zM59 191h1v1h-1zM61 191h5v1h-5zM67 191h6v1h-6zM74 191h1v1h-1zM76 191h5v1h-5zM85 191h2v1h-2zM88 191h1v1h-1zM98 191h1v1h-1zM111 191h4v1h-4zM54 192h1v1h-1zM57 192h3v1h-3zM61 192h2v1h-2zM64 192h4v1h-4zM69 192h7v1h-7zM77 192h3v1h-3zM81 192h1v1h-1zM88 192h1v1h-1zM110 192h4v1h-4zM115 192h1v1h-1zM55 193h3v1h-3zM60 193h4v1h-4zM65 193h15v1h-15zM84 193h1v1h-1zM110 193h5v1h-5zM55 194h3v1h-3zM59 194h5v1h-5zM65 194h2v1h-2zM68 194h1v1h-1zM70 194h10v1h-10zM83 194h1v1h-1zM110 194h3v1h-3zM114 194h1v1h-1zM55 195h9v1h-9zM65 195h4v1h-4zM70 195h9v1h-9zM81 195h1v1h-1zM83 195h3v1h-3zM95 195h1v1h-1zM111 195h3v1h-3zM56 196h5v1h-5zM62 196h1v1h-1zM64 196h3v1h-3zM69 196h1v1h-1zM71 196h7v1h-7zM81 196h1v1h-1zM83 196h3v1h-3zM93 196h1v1h-1zM109 196h8v1h-8zM56 197h1v1h-1zM58 197h10v1h-10zM69 197h8v1h-8zM83 197h3v1h-3zM91 197h1v1h-1zM110 197h8v1h-8zM56 198h21v1h-21zM83 198h4v1h-4zM110 198h6v1h-6zM55 199h22v1h-22zM83 199h4v1h-4zM108 199h1v1h-1zM110 199h6v1h-6zM117 199h1v1h-1zM55 200h24v1h-24zM80 200h1v1h-1zM83 200h4v1h-4zM110 200h5v1h-5zM116 200h2v1h-2zM55 201h26v1h-26zM84 201h3v1h-3zM110 201h7v1h-7zM55 202h15v1h-15zM71 202h5v1h-5zM77 202h10v1h-10zM109 202h1v1h-1zM111 202h3v1h-3zM115 202h1v1h-1zM54 203h13v1h-13zM68 203h8v1h-8zM77 203h9v1h-9zM87 203h1v1h-1zM110 203h3v1h-3zM55 204h19v1h-19zM75 204h2v1h-2zM79 204h8v1h-8zM110 204h4v1h-4zM55 205h19v1h-19zM79 205h2v1h-2zM82 205h4v1h-4zM97 205h1v1h-1zM110 205h2v1h-2zM52 206h1v1h-1zM57 206h5v1h-5zM63 206h5v1h-5zM69 206h2v1h-2zM72 206h2v1h-2zM79 206h1v1h-1zM81 206h2v1h-2zM84 206h2v1h-2zM88 206h3v1h-3zM110 206h2v1h-2zM55 207h1v1h-1zM57 207h5v1h-5zM64 207h3v1h-3zM73 207h3v1h-3zM77 207h2v1h-2zM81 207h3v1h-3zM85 207h1v1h-1zM88 207h1v1h-1zM110 207h2v1h-2zM113 207h1v1h-1zM115 207h1v1h-1zM52 208h2v1h-2zM56 208h6v1h-6zM65 208h2v1h-2zM69 208h1v1h-1zM71 208h1v1h-1zM73 208h4v1h-4zM80 208h5v1h-5zM108 208h2v1h-2zM111 208h2v1h-2zM114 208h1v1h-1zM51 209h13v1h-13zM66 209h2v1h-2zM70 209h6v1h-6zM77 209h1v1h-1zM80 209h2v1h-2zM83 209h2v1h-2zM109 209h1v1h-1zM111 209h3v1h-3zM51 210h13v1h-13zM72 210h4v1h-4zM93 210h1v1h-1zM99 210h1v1h-1zM110 210h4v1h-4zM51 211h8v1h-8zM62 211h3v1h-3zM66 211h1v1h-1zM70 211h1v1h-1zM72 211h2v1h-2zM84 211h1v1h-1zM98 211h1v1h-1zM110 211h4v1h-4z"/>
<path fill="#ffffff" d="M97 0h4v1h-4zM108 0h1v1h-1zM44 1h1v1h-1zM97 1h3v1h-3zM98 2h1v1h-1zM100 2h1v1h-1zM58 7h1v1h-1zM61 7h1v1h-1zM55 10h1v1h-1zM54 11h1v1h-1zM53 12h1v1h-1zM68 12h1v1h-1zM54 13h1v1h-1zM53 14h1v1h-1zM74 15h2v1h-2zM80 15h2v1h-2zM96 18h2v1h-2zM91 19h2v1h-2zM94 19h1v1h-1zM81 21h3v1h-3zM90 21h1v1h-1zM81 22h3v1h-3zM94 22h1v1h-1zM80 23h1v1h-1zM82 23h1v1h-1zM88 23h2v1h-2zM95 23h1v1h-1zM93 24h2v1h-2zM85 26h1v1h-1zM77 27h1v1h-1zM85 27h1v1h-1zM84 28h2v1h-2zM87 28h1v1h-1zM84 29h1v1h-1zM83 30h1v1h-1zM90 30h1v1h-1zM94 30h1v1h-1zM93 31h1v1h-1zM105 32h1v1h-1zM83 33h1v1h-1zM59 39h2v1h-2zM59 40h4v1h-4zM58 41h1v1h-1zM60 41h2v1h-2zM61 42h1v1h-1zM59 43h3v1h-3zM67 43h1v1h-1zM67 44h1v1h-1zM67 45h2v1h-2zM64 47h1v1h-1zM58 48h2v1h-2zM63 48h1v1h-1zM57 49h3v1h-3zM62 49h1v1h-1zM55 50h1v1h-1zM58 50h1v1h-1zM63 50h1v1h-1zM57 51h3v1h-3zM62 51h1v1h-1zM64 51h1v1h-1zM67 51h1v1h-1zM57 52h1v1h-1zM64 52h1v1h-1zM57 53h1v1h-1zM63 53h2v1h-2zM68 53h1v1h-1zM54 54h1v1h-1zM66 54h1v1h-1zM60 55h1v1h-1zM63 55h2v1h-2zM70 55h1v1h-1zM59 56h1v1h-1zM61 56h2v1h-2zM65 56h1v1h-1zM60 57h1v1h-1zM62 57h1v1h-1zM59 58h1v1h-1zM61 58h1v1h-1zM66 59h1v1h-1zM66 60h1v1h-1zM65 61h3v1h-3zM67 62h1v1h-1zM57 63h1v1h-1zM59 63h1v1h-1zM61 63h1v1h-1zM66 63h1v1h-1zM68 63h1v1h-1zM59 64h1v1h-1zM63 64h2v1h-2zM66 64h1v1h-1zM59 65h2v1h-2zM65 65h1v1h-1zM67 65h1v1h-1zM58 66h1v1h-1zM61 66h1v1h-1zM66 66h1v1h-1zM58 67h1v1h-1zM60 67h3v1h-3zM57 68h1v1h-1zM60 68h1v1h-1zM55 69h1v1h-1zM63 69h1v1h-1zM63 70h2v1h-2zM66 71h1v1h-1zM62 72h1v1h-1zM63 73h2v1h-2zM64 74h3v1h-3zM66 75h1v1h-1zM67 76h1v1h-1zM117 77h1v1h-1zM118 78h1v1h-1zM118 79h1v1h-1zM121 79h1v1h-1zM138 79h1v1h-1zM125 81h1v1h-1zM124 83h1v1h-1zM121 84h1v1h-1zM156 84h1v1h-1zM132 85h1v1h-1zM109 86h2v1h-2zM131 87h1v1h-1zM133 87h1v1h-1zM127 88h1v1h-1zM137 88h1v1h-1zM125 89h1v1h-1zM136 89h1v1h-1zM117 91h1v1h-1zM127 91h1v1h-1zM133 91h1v1h-1zM111 92h1v1h-1zM71 93h2v1h-2zM107 93h2v1h-2zM110 93h1v1h-1zM112 93h1v1h-1zM72 94h1v1h-1zM105 94h1v1h-1zM111 94h2v1h-2zM102 95h1v1h-1zM104 95h2v1h-2zM112 95h1v1h-1zM138 95h1v1h-1zM71 96h2v1h-2zM104 96h4v1h-4zM139 96h1v1h-1zM104 97h3v1h-3zM138 97h1v1h-1zM150 97h1v1h-1zM105 98h3v1h-3zM112 98h1v1h-1zM134 98h1v1h-1zM105 99h1v1h-1zM111 99h2v1h-2zM105 100h2v1h-2zM111 100h3v1h-3zM116 100h1v1h-1zM105 101h2v1h-2zM108 101h4v1h-4zM114 101h1v1h-1zM122 101h1v1h-1zM106 102h2v1h-2zM109 102h1v1h-1zM122 102h1v1h-1zM124 102h1v1h-1zM109 103h2v1h-2zM116 103h1v1h-1zM118 103h1v1h-1zM73 104h1v1h-1zM116 104h2v1h-2zM120 104h1v1h-1zM112 105h1v1h-1zM117 105h1v1h-1zM109 106h1v1h-1zM112 106h5v1h-5zM121 106h1v1h-1zM115 107h1v1h-1zM114 108h1v1h-1zM114 109h1v1h-1zM118 109h1v1h-1zM72 111h1v1h-1zM110 111h1v1h-1zM113 111h1v1h-1zM119 111h1v1h-1zM121 111h1v1h-1zM72 112h1v1h-1zM113 112h4v1h-4zM119 112h1v1h-1zM113 113h5v1h-5zM119 113h2v1h-2zM112 114h5v1h-5zM120 114h2v1h-2zM123 114h3v1h-3zM74 115h1v1h-1zM114 115h1v1h-1zM122 115h1v1h-1zM124 115h2v1h-2zM73 116h2v1h-2zM115 116h1v1h-1zM72 117h3v1h-3zM121 117h1v1h-1zM72 118h3v1h-3zM72 119h2v1h-2zM112 119h3v1h-3zM119 119h1v1h-1zM74 120h1v1h-1zM110 120h1v1h-1zM112 120h1v1h-1zM112 121h1v1h-1zM125 121h1v1h-1zM112 122h1v1h-1zM119 123h1v1h-1zM74 124h1v1h-1zM102 124h1v1h-1zM109 124h1v1h-1zM111 124h1v1h-1zM119 124h1v1h-1zM109 126h1v1h-1zM108 127h1v1h-1zM114 129h2v1h-2zM111 130h4v1h-4zM130 130h1v1h-1zM111 131h1v1h-1zM115 131h2v1h-2zM114 132h1v1h-1zM117 133h1v1h-1zM113 134h1v1h-1zM115 134h1v1h-1zM115 135h1v1h-1zM115 136h1v1h-1zM109 141h1v1h-1zM92 167h1v1h-1zM103 179h1v1h-1zM106 179h2v1h-2zM104 180h1v1h-1zM99 181h1v1h-1zM104 181h1v1h-1zM97 185h1v1h-1zM97 186h1v1h-1zM104 190h1v1h-1zM103 191h1v1h-1zM105 191h2v1h-2zM90 192h3v1h-3zM95 192h1v1h-1zM104 192h3v1h-3zM91 193h1v1h-1zM94 193h1v1h-1zM103 193h4v1h-4zM103 194h1v1h-1zM104 195h2v1h-2zM95 198h1v1h-1zM97 198h1v1h-1zM100 200h1v1h-1zM104 201h1v1h-1zM101 203h1v1h-1zM106 204h1v1h-1z"/>
</g>
<g transform="translate(55.2 190.2) scale(4.4)">
<path fill="#fd9a38" d="M4 0h1v1h-1zM19 0h1v1h-1zM23 1h1v1h-1zM31 1h1v1h-1zM7 3h1v1h-1zM24 3h1v1h-1zM54 3h1v1h-1zM56 3h1v1h-1zM0 4h1v1h-1zM18 4h1v1h-1zM25 4h1v1h-1zM33 4h2v1h-2zM0 5h1v1h-1zM7 5h1v1h-1zM16 5h1v1h-1zM73 5h1v1h-1zM17 6h1v1h-1zM4 7h1v1h-1zM15 7h1v1h-1zM58 7h1v1h-1zM16 8h1v1h-1zM61 8h1v1h-1zM70 8h2v1h-2zM5 9h2v1h-2zM13 9h4v1h-4zM29 9h1v1h-1zM70 9h1v1h-1zM72 9h1v1h-1zM1 10h1v1h-1zM25 10h1v1h-1zM29 10h2v1h-2zM36 10h1v1h-1zM41 10h1v1h-1zM70 10h2v1h-2zM29 11h2v1h-2zM32 11h1v1h-1zM25 12h1v1h-1zM25 13h1v1h-1zM41 13h1v1h-1zM45 13h1v1h-1zM72 13h1v1h-1zM41 14h1v1h-1zM71 14h1v1h-1zM25 17h1v1h-1zM72 18h1v1h-1zM26 19h1v1h-1zM35 19h1v1h-1zM68 22h2v1h-2zM27 23h1v1h-1zM27 24h1v1h-1zM46 24h2v1h-2zM67 24h1v1h-1zM27 25h2v1h-2zM50 25h1v1h-1zM54 25h1v1h-1zM67 25h1v1h-1zM27 26h1v1h-1zM27 27h1v1h-1zM49 27h1v1h-1zM49 28h3v1h-3zM27 29h1v1h-1zM33 29h1v1h-1zM50 29h1v1h-1zM57 29h1v1h-1zM28 30h1v1h-1zM56 30h1v1h-1zM28 31h1v1h-1zM65 31h1v1h-1zM27 32h1v1h-1zM64 32h2v1h-2zM49 33h1v1h-1zM59 33h1v1h-1zM64 33h1v1h-1zM28 34h1v1h-1zM51 34h1v1h-1zM54 34h2v1h-2zM61 34h3v1h-3zM60 35h3v1h-3zM28 36h1v1h-1zM59 36h1v1h-1zM62 36h1v1h-1zM50 37h2v1h-2zM54 37h1v1h-1zM57 37h4v1h-4zM64 37h1v1h-1zM43 38h1v1h-1zM49 38h2v1h-2zM58 38h2v1h-2zM47 39h1v1h-1zM62 39h1v1h-1zM58 40h1v1h-1zM30 41h1v1h-1zM54 41h1v1h-1zM67 41h4v1h-4zM76 41h2v1h-2zM30 42h1v1h-1zM48 42h2v1h-2zM68 42h3v1h-3zM72 42h1v1h-1zM76 42h1v1h-1zM78 42h1v1h-1zM81 42h2v1h-2zM47 43h2v1h-2zM50 43h1v1h-1zM59 43h1v1h-1zM68 43h1v1h-1zM78 43h1v1h-1zM48 44h2v1h-2zM60 44h1v1h-1zM62 44h1v1h-1zM32 45h1v1h-1zM35 45h1v1h-1zM48 45h2v1h-2zM59 45h1v1h-1zM61 45h4v1h-4zM32 46h1v1h-1zM35 46h1v1h-1zM50 46h2v1h-2zM53 46h1v1h-1zM60 46h1v1h-1zM62 46h3v1h-3zM66 46h1v1h-1zM53 47h1v1h-1zM62 47h1v1h-1zM53 48h1v1h-1zM59 48h3v1h-3zM63 48h1v1h-1zM79 48h1v1h-1zM38 49h1v1h-1zM52 49h2v1h-2zM80 49h1v1h-1zM48 50h1v1h-1zM52 50h1v1h-1zM52 51h1v1h-1zM47 52h1v1h-1zM49 52h1v1h-1zM51 52h2v1h-2zM48 53h1v1h-1zM53 53h1v1h-1zM76 53h1v1h-1zM93 53h1v1h-1zM47 54h1v1h-1zM49 54h2v1h-2zM52 54h2v1h-2zM59 54h1v1h-1zM93 54h2v1h-2zM47 55h1v1h-1zM65 55h1v1h-1zM46 56h1v1h-1zM51 56h1v1h-1zM53 56h1v1h-1zM65 56h1v1h-1zM46 57h1v1h-1zM50 57h1v1h-1zM52 57h1v1h-1zM55 57h2v1h-2zM102 57h1v1h-1zM49 58h1v1h-1zM51 58h1v1h-1zM53 58h1v1h-1zM56 58h2v1h-2zM102 58h1v1h-1zM49 59h2v1h-2zM52 59h1v1h-1zM101 60h1v1h-1zM103 60h1v1h-1zM41 61h1v1h-1zM49 61h2v1h-2zM56 61h1v1h-1zM85 61h1v1h-1zM92 61h1v1h-1zM49 62h2v1h-2zM56 62h1v1h-1zM43 63h1v1h-1zM49 63h1v1h-1zM56 63h1v1h-1zM42 64h1v1h-1zM49 64h1v1h-1zM56 64h1v1h-1zM78 64h1v1h-1zM92 64h1v1h-1zM101 64h1v1h-1zM42 65h1v1h-1zM56 65h2v1h-2zM102 65h1v1h-1zM42 66h1v1h-1zM48 66h1v1h-1zM55 66h1v1h-1zM79 66h1v1h-1zM96 66h1v1h-1zM101 66h1v1h-1zM42 67h1v1h-1zM49 67h5v1h-5zM55 67h1v1h-1zM76 67h1v1h-1zM79 67h1v1h-1zM99 67h1v1h-1zM42 68h1v1h-1zM51 68h3v1h-3zM77 68h1v1h-1zM90 68h1v1h-1zM95 68h1v1h-1zM101 68h1v1h-1zM42 69h1v1h-1zM46 69h1v1h-1zM50 69h1v1h-1zM63 69h1v1h-1zM95 69h1v1h-1zM53 70h1v1h-1zM55 70h1v1h-1zM57 70h1v1h-1zM49 71h1v1h-1zM54 71h2v1h-2zM42 72h1v1h-1zM49 72h1v1h-1zM68 72h1v1h-1zM43 73h1v1h-1zM50 73h2v1h-2zM53 73h2v1h-2zM42 74h2v1h-2zM53 74h3v1h-3zM75 74h1v1h-1zM50 75h1v1h-1zM84 75h1v1h-1zM87 75h1v1h-1zM101 75h1v1h-1zM94 76h2v1h-2zM97 76h1v1h-1zM99 76h1v1h-1zM102 76h1v1h-1zM79 77h1v1h-1zM98 77h1v1h-1zM43 78h1v1h-1zM79 78h1v1h-1zM97 78h1v1h-1zM102 78h1v1h-1zM43 79h1v1h-1zM53 79h1v1h-1zM99 79h1v1h-1zM50 80h1v1h-1zM99 80h2v1h-2zM51 81h2v1h-2zM78 81h1v1h-1zM84 81h1v1h-1zM102 81h1v1h-1zM48 82h1v1h-1zM50 82h2v1h-2zM78 82h1v1h-1zM89 82h1v1h-1zM102 82h1v1h-1zM58 83h1v1h-1zM68 83h1v1h-1zM99 83h1v1h-1zM102 83h3v1h-3zM49 84h3v1h-3zM55 84h2v1h-2zM89 84h1v1h-1zM91 84h2v1h-2zM101 84h2v1h-2zM47 85h1v1h-1zM53 85h1v1h-1zM55 85h2v1h-2zM89 85h1v1h-1zM101 85h2v1h-2zM52 86h1v1h-1zM56 86h1v1h-1zM92 86h1v1h-1zM49 87h1v1h-1zM51 87h3v1h-3zM73 87h1v1h-1zM91 87h2v1h-2zM51 88h2v1h-2zM57 88h1v1h-1zM72 88h2v1h-2zM86 88h2v1h-2zM90 88h1v1h-1zM56 89h1v1h-1zM58 89h2v1h-2zM71 89h1v1h-1zM89 89h1v1h-1zM94 89h1v1h-1zM58 90h2v1h-2zM61 90h1v1h-1zM71 90h1v1h-1zM76 90h1v1h-1zM53 91h3v1h-3zM61 91h2v1h-2zM66 91h1v1h-1zM71 91h1v1h-1zM74 91h1v1h-1zM88 91h1v1h-1zM101 91h1v1h-1zM51 92h4v1h-4zM64 92h1v1h-1zM67 92h1v1h-1zM70 92h1v1h-1zM73 92h2v1h-2zM51 93h2v1h-2zM59 93h1v1h-1zM63 93h1v1h-1zM58 94h2v1h-2zM62 94h1v1h-1zM67 94h1v1h-1zM71 94h1v1h-1zM58 95h2v1h-2zM64 95h1v1h-1zM66 95h1v1h-1zM69 95h2v1h-2zM51 96h1v1h-1zM65 96h1v1h-1zM67 96h2v1h-2zM70 96h1v1h-1zM66 97h1v1h-1zM69 97h2v1h-2zM73 97h1v1h-1zM57 98h2v1h-2zM67 98h1v1h-1zM70 98h2v1h-2zM73 98h1v1h-1zM51 99h1v1h-1zM56 99h1v1h-1zM67 99h1v1h-1zM71 99h3v1h-3zM50 100h1v1h-1zM50 101h1v1h-1zM70 101h1v1h-1zM52 102h1v1h-1zM49 103h2v1h-2zM60 103h1v1h-1zM69 104h1v1h-1zM69 106h1v1h-1zM42 107h2v1h-2zM46 107h1v1h-1zM68 107h1v1h-1zM46 108h1v1h-1zM42 109h1v1h-1zM44 109h1v1h-1zM55 109h1v1h-1zM34 110h1v1h-1zM38 110h1v1h-1zM42 110h1v1h-1zM44 110h2v1h-2zM49 110h1v1h-1zM62 110h1v1h-1zM34 111h2v1h-2zM38 111h1v1h-1zM42 111h1v1h-1zM51 111h1v1h-1zM56 111h1v1h-1zM62 111h1v1h-1zM37 112h2v1h-2zM43 112h1v1h-1zM62 112h1v1h-1zM67 112h1v1h-1zM37 113h2v1h-2zM43 113h1v1h-1zM46 113h1v1h-1zM54 113h1v1h-1zM44 114h2v1h-2zM52 114h3v1h-3zM52 115h1v1h-1zM58 115h1v1h-1zM69 115h1v1h-1zM37 116h1v1h-1zM40 116h1v1h-1zM44 116h1v1h-1zM53 116h1v1h-1zM62 116h1v1h-1zM35 117h1v1h-1zM39 117h3v1h-3zM60 117h1v1h-1zM69 117h1v1h-1zM36 118h1v1h-1zM60 118h1v1h-1zM68 118h2v1h-2zM35 119h2v1h-2zM40 119h1v1h-1zM43 119h1v1h-1zM50 119h1v1h-1zM35 120h1v1h-1zM37 120h1v1h-1zM39 120h1v1h-1zM70 120h1v1h-1zM35 121h2v1h-2zM46 121h1v1h-1zM48 121h1v1h-1zM69 121h2v1h-2zM35 122h1v1h-1zM42 122h1v1h-1zM45 122h3v1h-3zM59 122h1v1h-1zM34 123h1v1h-1zM39 123h1v1h-1zM41 123h1v1h-1zM43 123h1v1h-1zM46 123h1v1h-1zM48 123h1v1h-1zM40 124h2v1h-2zM43 124h2v1h-2zM59 124h1v1h-1zM35 125h3v1h-3zM39 125h2v1h-2zM42 125h1v1h-1zM52 125h1v1h-1zM33 126h1v1h-1zM36 126h1v1h-1zM38 126h3v1h-3zM65 126h1v1h-1zM35 127h2v1h-2zM38 127h3v1h-3zM44 127h2v1h-2zM65 127h1v1h-1zM67 127h1v1h-1zM38 128h1v1h-1zM44 128h1v1h-1zM60 128h1v1h-1zM32 129h1v1h-1zM34 129h1v1h-1zM45 129h1v1h-1zM60 129h1v1h-1z"/>
<path fill="#fb5a1c" d="M13 1h1v1h-1zM17 1h1v1h-1zM21 1h1v1h-1zM17 2h1v1h-1zM25 2h1v1h-1zM44 2h1v1h-1zM78 2h1v1h-1zM25 3h1v1h-1zM55 3h1v1h-1zM6 4h2v1h-2zM19 4h1v1h-1zM42 4h2v1h-2zM31 6h1v1h-1zM58 6h1v1h-1zM73 6h3v1h-3zM72 7h2v1h-2zM24 8h1v1h-1zM26 8h1v1h-1zM69 8h1v1h-1zM72 8h2v1h-2zM0 9h1v1h-1zM26 9h1v1h-1zM31 9h1v1h-1zM73 9h1v1h-1zM31 10h1v1h-1zM42 10h1v1h-1zM58 10h1v1h-1zM31 11h1v1h-1zM70 11h2v1h-2zM45 12h1v1h-1zM26 17h2v1h-2zM32 17h1v1h-1zM25 18h2v1h-2zM69 19h1v1h-1zM71 21h1v1h-1zM40 22h1v1h-1zM40 23h1v1h-1zM67 23h3v1h-3zM68 24h2v1h-2zM45 25h1v1h-1zM68 25h1v1h-1zM45 26h1v1h-1zM49 26h3v1h-3zM48 27h1v1h-1zM50 27h2v1h-2zM49 29h1v1h-1zM56 29h1v1h-1zM27 30h1v1h-1zM44 30h1v1h-1zM57 30h1v1h-1zM27 31h1v1h-1zM29 31h1v1h-1zM28 32h1v1h-1zM60 32h1v1h-1zM64 34h1v1h-1zM68 34h1v1h-1zM54 35h1v1h-1zM64 35h1v1h-1zM48 36h1v1h-1zM48 37h1v1h-1zM63 37h1v1h-1zM52 38h1v1h-1zM29 39h1v1h-1zM52 39h1v1h-1zM63 40h1v1h-1zM50 41h2v1h-2zM55 41h1v1h-1zM58 41h2v1h-2zM59 42h1v1h-1zM67 42h1v1h-1zM83 42h1v1h-1zM31 43h1v1h-1zM62 43h1v1h-1zM75 44h1v1h-1zM51 45h2v1h-2zM56 45h1v1h-1zM74 46h1v1h-1zM51 47h1v1h-1zM36 49h1v1h-1zM51 49h1v1h-1zM56 49h1v1h-1zM79 49h1v1h-1zM51 50h1v1h-1zM53 50h1v1h-1zM91 50h1v1h-1zM50 51h2v1h-2zM69 51h1v1h-1zM50 52h1v1h-1zM53 52h1v1h-1zM59 52h2v1h-2zM59 53h1v1h-1zM51 54h1v1h-1zM51 55h3v1h-3zM47 56h1v1h-1zM52 56h1v1h-1zM48 57h1v1h-1zM51 57h1v1h-1zM40 58h1v1h-1zM48 58h1v1h-1zM55 58h1v1h-1zM101 58h1v1h-1zM40 59h2v1h-2zM51 59h1v1h-1zM53 59h3v1h-3zM102 59h2v1h-2zM40 60h1v1h-1zM48 60h9v1h-9zM102 60h1v1h-1zM48 61h1v1h-1zM51 61h3v1h-3zM55 61h1v1h-1zM41 62h1v1h-1zM48 62h1v1h-1zM51 62h5v1h-5zM78 62h2v1h-2zM88 62h2v1h-2zM96 62h2v1h-2zM41 63h1v1h-1zM46 63h1v1h-1zM48 63h1v1h-1zM50 63h6v1h-6zM78 63h1v1h-1zM95 63h2v1h-2zM41 64h1v1h-1zM46 64h1v1h-1zM51 64h1v1h-1zM53 64h1v1h-1zM55 64h1v1h-1zM77 64h1v1h-1zM93 64h1v1h-1zM98 64h1v1h-1zM41 65h1v1h-1zM49 65h1v1h-1zM51 65h2v1h-2zM54 65h2v1h-2zM58 65h2v1h-2zM77 65h1v1h-1zM92 65h1v1h-1zM98 65h1v1h-1zM49 66h3v1h-3zM53 66h2v1h-2zM77 66h2v1h-2zM54 67h1v1h-1zM77 67h1v1h-1zM90 67h1v1h-1zM78 68h1v1h-1zM93 68h1v1h-1zM97 68h1v1h-1zM47 69h1v1h-1zM88 69h1v1h-1zM93 69h1v1h-1zM102 71h1v1h-1zM47 72h2v1h-2zM85 72h1v1h-1zM102 72h1v1h-1zM65 73h1v1h-1zM81 73h2v1h-2zM85 73h1v1h-1zM97 74h1v1h-1zM43 75h1v1h-1zM48 75h1v1h-1zM85 75h1v1h-1zM100 75h1v1h-1zM48 76h1v1h-1zM56 76h1v1h-1zM100 76h2v1h-2zM52 77h1v1h-1zM89 77h1v1h-1zM96 77h1v1h-1zM99 77h2v1h-2zM102 77h1v1h-1zM50 78h1v1h-1zM85 78h1v1h-1zM89 78h1v1h-1zM96 78h1v1h-1zM100 78h1v1h-1zM50 79h1v1h-1zM58 79h1v1h-1zM100 79h2v1h-2zM52 80h1v1h-1zM102 80h1v1h-1zM85 81h1v1h-1zM94 81h1v1h-1zM98 81h4v1h-4zM92 82h3v1h-3zM99 82h3v1h-3zM89 83h1v1h-1zM100 83h2v1h-2zM57 84h2v1h-2zM96 84h2v1h-2zM100 84h1v1h-1zM103 84h1v1h-1zM57 85h1v1h-1zM69 85h1v1h-1zM91 85h1v1h-1zM100 85h1v1h-1zM47 86h1v1h-1zM54 86h2v1h-2zM69 86h2v1h-2zM54 87h3v1h-3zM59 87h1v1h-1zM96 87h1v1h-1zM48 88h2v1h-2zM56 88h1v1h-1zM92 88h1v1h-1zM96 88h1v1h-1zM53 89h1v1h-1zM57 89h1v1h-1zM72 89h3v1h-3zM48 90h2v1h-2zM53 90h5v1h-5zM72 90h3v1h-3zM56 91h2v1h-2zM63 91h2v1h-2zM72 91h2v1h-2zM71 92h2v1h-2zM56 93h1v1h-1zM71 93h4v1h-4zM55 94h2v1h-2zM60 94h1v1h-1zM72 94h2v1h-2zM71 95h2v1h-2zM66 96h1v1h-1zM71 96h3v1h-3zM71 97h2v1h-2zM53 98h1v1h-1zM68 98h1v1h-1zM72 98h1v1h-1zM66 99h1v1h-1zM71 100h1v1h-1zM51 101h2v1h-2zM49 102h2v1h-2zM70 102h1v1h-1zM53 103h2v1h-2zM55 104h1v1h-1zM50 105h1v1h-1zM50 106h1v1h-1zM50 107h1v1h-1zM43 108h3v1h-3zM47 108h1v1h-1zM35 109h2v1h-2zM43 109h1v1h-1zM45 109h2v1h-2zM43 110h1v1h-1zM46 110h1v1h-1zM44 111h1v1h-1zM42 112h1v1h-1zM42 113h1v1h-1zM51 113h2v1h-2zM42 114h1v1h-1zM46 114h1v1h-1zM37 115h1v1h-1zM46 115h1v1h-1zM70 117h1v1h-1zM39 118h1v1h-1zM50 120h2v1h-2zM68 120h1v1h-1zM51 121h1v1h-1zM67 121h2v1h-2zM38 122h1v1h-1zM51 122h1v1h-1zM69 122h1v1h-1zM40 123h1v1h-1zM42 123h1v1h-1zM45 123h1v1h-1zM69 123h1v1h-1zM35 124h2v1h-2zM42 124h1v1h-1zM50 124h2v1h-2zM33 125h2v1h-2zM38 125h1v1h-1zM50 125h1v1h-1zM44 126h1v1h-1zM68 126h1v1h-1zM45 128h1v1h-1zM49 128h1v1h-1z"/>
<path fill="#b24a1a" d="M54 61h1v1h-1zM50 64h1v1h-1zM52 64h1v1h-1zM54 64h1v1h-1zM50 65h1v1h-1zM53 65h1v1h-1zM52 66h1v1h-1zM78 67h1v1h-1zM101 77h1v1h-1zM101 78h1v1h-1zM101 80h1v1h-1zM53 88h3v1h-3zM54 89h2v1h-2z"/>
<path fill="#d41010" d=""/>
</g>
</g>
<path d="M54 190 L406.6 190 L400.2 205 L391.1 211.9 L382 221 L377.4 230.1 L376.3 241.5 L378.6 252.9 L382.5 264.3 L378.6 273.4 L370.6 282.5 L362.6 291.6 L357 300.7 L351.3 309.8 L349 321.2 L350.1 332.6 L354.7 341.7 L358.1 350.8 L357.1 359.4 L365.1 367.3 L376.4 371.9 L390.1 375.3 L406.1 376.4 L419.7 377.6 L427.7 384.4 L434.5 394.7 L444.8 402.6 L456.2 410.6 L464.6 416.3 L476.7 418.6 L483.5 424.3 L490.3 433.4 L499.5 440.2 L513.1 445.9 L509.7 456.2 L505.1 467.6 L502.9 481.2 L504 494.9 L506.4 499.1 L511.7 507.1 L507.6 517.3 L504.1 528.7 L503 540.1 L505.3 547 L511 554.9 L519 560.6 L525.8 563.4 L519 568.6 L513.3 577.7 L516.7 588 L509.8 592.5 L503 598.2 L498.5 605 L496.2 599.3 L489.3 597.1 L482.5 599.3 L479.1 601.6 L475.7 595.9 L470 591.4 L459.7 592.1 L448.3 593.6 L437 597.1 L425.6 601.6 L414.2 607.3 L402.8 614.1 L391.4 621 L377.4 631 L370.6 639 L367.2 649.2 L361.5 658.3 L360.4 664 L364.9 669.7 L365.6 681.1 L366.5 694.8 L368.3 708.5 L369.5 722.1 L371.1 735.8 L370.6 747.2 L367.2 756.3 L363.8 761 L195 761 L198.5 749.3 L204.2 738 L208.7 726.6 L207.6 715.2 L201.9 706 L192.8 695.8 L184.8 690 L187.1 684.6 L195.1 677.8 L208.7 671 L221.3 661.9 L231.5 658.5 L242.9 659.6 L254.3 660.7 L263.4 657.3 L272.5 649.3 L278.2 635.7 L281.6 622 L282.8 608.3 L280.5 597 L273.6 591.3 L265.7 586.7 L262.3 576.4 L254.3 565 L249.7 551.4 L247.4 540 L245.7 529.5 L243.8 511.2 L242.3 490.7 L240 472.5 L236.6 456.6 L229.7 438.3 L220.6 422.4 L211.5 407.6 L199 395 L193.3 383.7 L188.7 370 L184.4 359.5 L180.3 341.2 L177.6 325.3 L174.8 311.6 L175.7 302.5 L174.1 291.1 L168.5 279.7 L162.8 268.3 L158.2 259.2 L150.2 251.3 L145.7 243.3 L138.8 238.7 L136.6 234.2 L129.7 230.8 L118.3 229.6 L107 233 L99 241 L92.1 250.1 L86.4 255.4 L75 254.7 L66 251.3 L60.3 245.6 L55.7 244.4 L54 244Z" fill="none" stroke="#b9a070" stroke-width="0.5"/>
<path d="M340 478 L353.7 469.8 L367.3 464.8 L376.4 465.3 L385.6 472.1 L394.7 481.2 L400.4 488 L406 499.5 L415.2 508.6 L431 515.4 L441 509.7 L454.7 514.3 L472.9 516.5 L488.8 515.4 L500.2 509.7 L510.5 507.4" fill="none" stroke="#8a8a7a" stroke-width="0.7"/>
<polygon points="332.1,459.4 336.6,473.2 351.0,473.2 339.3,481.6 343.8,495.4 332.1,486.9 320.4,495.4 324.9,481.6 313.2,473.2 327.6,473.2" fill="#ffff00" stroke="#8a8a60" stroke-width="0.6"/>
<circle cx="300.0" cy="207.3" r="2.1" fill="#000"/><text class="ct" x="302.7" y="204.1">Senise</text><circle cx="187.5" cy="238.6" r="2.1" fill="#000"/><text class="ct" x="190.2" y="235.4">Lauria</text><circle cx="280.0" cy="311.0" r="2.1" fill="#000"/><text class="ct" x="282.7" y="307.8">Castrovillari</text><circle cx="359.2" cy="295.7" r="2.1" fill="#000"/><text class="ct" x="361.9" y="292.5">Trebisacce</text><circle cx="355.5" cy="383.7" r="2.1" fill="#000"/><text class="ct" x="358.2" y="380.5">Corigliano Calabro</text><circle cx="213.8" cy="408.7" r="2.1" fill="#000"/><text class="ct" x="216.5" y="405.5">Cetraro</text><circle cx="464.6" cy="416.3" r="2.1" fill="#000"/><text class="ct" x="467.3" y="413.1">Cariati</text><circle cx="289.4" cy="474.3" r="2.1" fill="#000"/><text class="ct" x="292.1" y="471.1">Cosenza</text><circle cx="400.4" cy="489.2" r="2.1" fill="#000"/><text class="ct" x="403.1" y="486.0">San Giovanni In Fiore</text><circle cx="503.7" cy="545.4" r="2.1" fill="#000"/><text class="ct" x="506.4" y="542.2">Crotone</text><circle cx="304.4" cy="582.8" r="2.1" fill="#000"/><text class="ct" x="307.1" y="579.6">Lamezia Terme</text><circle cx="375.6" cy="606.6" r="2.1" fill="#000"/><text class="ct" x="378.3" y="603.4">Catanzaro</text><circle cx="251.3" cy="674.9" r="2.1" fill="#000"/><text class="ct" x="254.0" y="671.7">Vibo Valentia</text><circle cx="203.0" cy="753.4" r="2.1" fill="#000"/><text class="ct" x="205.7" y="750.2">Gioia Tauro</text>
</svg>
<rect x="576.9" y="748" width="48" height="15.7" fill="#000"/>
<text x="580.6" y="760.8" font-size="14.7" font-weight="bold" font-style="italic" fill="#fff">EMSC</text>
<text x="672.5" y="751" font-size="13.8" font-style="italic" fill="#000">Restricted use:</text>
<text x="672.5" y="765.5" font-size="13.8" font-style="italic" fill="#000">redistribution forbidden</text>
</svg>
</body></html>
